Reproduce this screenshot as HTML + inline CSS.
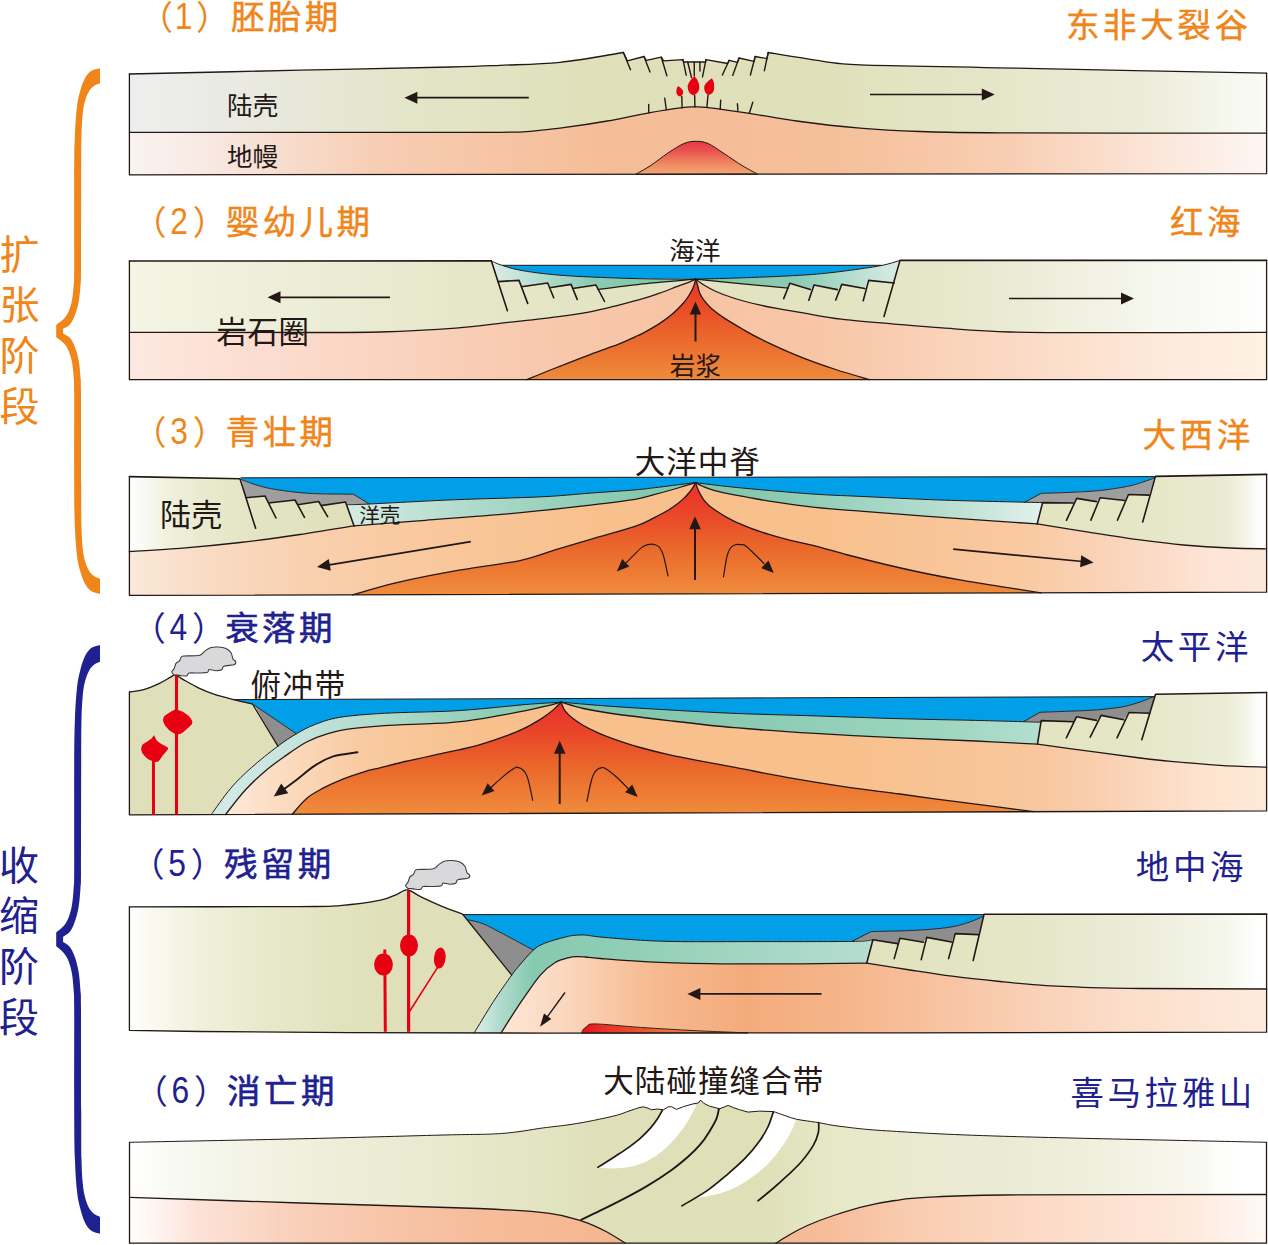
<!DOCTYPE html>
<html lang="zh-CN">
<head>
<meta charset="utf-8">
<title>威尔逊旋回</title>
<style>
html,body{margin:0;padding:0;background:#fff;}
body{width:1268px;height:1245px;overflow:hidden;}
svg{display:block;}
text{font-family:"Liberation Sans","Noto Sans CJK SC",sans-serif;}
</style>
</head>
<body>
<svg width="1268" height="1245" viewBox="0 0 1268 1245">
<defs>
<linearGradient id="g1c" gradientUnits="userSpaceOnUse" x1="129.5" y1="0" x2="1266.5" y2="0"><stop offset="0" stop-color="#eeeeee"/><stop offset="0.08" stop-color="#eaeae5"/><stop offset="0.25" stop-color="#e3e5c8"/><stop offset="0.42" stop-color="#dfe0b9"/><stop offset="0.62" stop-color="#e0e1bb"/><stop offset="0.78" stop-color="#e6e7cb"/><stop offset="0.9" stop-color="#ecedda"/><stop offset="0.96" stop-color="#f5f6ec"/><stop offset="1" stop-color="#fbfbf7"/></linearGradient>
<linearGradient id="g1m" gradientUnits="userSpaceOnUse" x1="129.5" y1="0" x2="1266.5" y2="0"><stop offset="0" stop-color="#faf3f0"/><stop offset="0.05" stop-color="#f8ece7"/><stop offset="0.22" stop-color="#f7cdb4"/><stop offset="0.42" stop-color="#f5bd97"/><stop offset="0.62" stop-color="#f5bf9a"/><stop offset="0.78" stop-color="#f8cfb4"/><stop offset="0.9" stop-color="#fbe5d8"/><stop offset="1" stop-color="#fdf6f3"/></linearGradient>
<linearGradient id="g1d" gradientUnits="userSpaceOnUse" x1="0" y1="141" x2="0" y2="175"><stop offset="0" stop-color="#e73843"/><stop offset="0.3" stop-color="#ea5350"/><stop offset="0.7" stop-color="#f08c62"/><stop offset="1" stop-color="#f4a875"/></linearGradient>
<linearGradient id="g2c" gradientUnits="userSpaceOnUse" x1="129.5" y1="0" x2="1266.5" y2="0"><stop offset="0" stop-color="#f4f5e4"/><stop offset="0.1" stop-color="#eef0dc"/><stop offset="0.3" stop-color="#e6e7c9"/><stop offset="0.45" stop-color="#e2e3c0"/><stop offset="0.62" stop-color="#e2e3c0"/><stop offset="0.75" stop-color="#e8e9cf"/><stop offset="0.9" stop-color="#f6f7ee"/><stop offset="1" stop-color="#fefefe"/></linearGradient>
<linearGradient id="g2m" gradientUnits="userSpaceOnUse" x1="129.5" y1="0" x2="1266.5" y2="0"><stop offset="0" stop-color="#fde8e0"/><stop offset="0.15" stop-color="#fbdacb"/><stop offset="0.35" stop-color="#f8c9ae"/><stop offset="0.5" stop-color="#f7c4a3"/><stop offset="0.62" stop-color="#f8c7a8"/><stop offset="0.8" stop-color="#fbdcc8"/><stop offset="0.92" stop-color="#fdebdd"/><stop offset="1" stop-color="#fef1e4"/></linearGradient>
<linearGradient id="g2mag" gradientUnits="userSpaceOnUse" x1="0" y1="280" x2="0" y2="380"><stop offset="0" stop-color="#ea3323"/><stop offset="0.25" stop-color="#e94a24"/><stop offset="0.6" stop-color="#ea6a2c"/><stop offset="1" stop-color="#ef8b3c"/></linearGradient>
<linearGradient id="g2tL" gradientUnits="userSpaceOnUse" x1="491" y1="0" x2="695" y2="0"><stop offset="0" stop-color="#d9ece6"/><stop offset="0.15" stop-color="#c3e3d8"/><stop offset="0.5" stop-color="#8ccbb3"/><stop offset="1" stop-color="#7cc4a8"/></linearGradient>
<linearGradient id="g2tR" gradientUnits="userSpaceOnUse" x1="695" y1="0" x2="900" y2="0"><stop offset="0" stop-color="#7cc4a8"/><stop offset="0.5" stop-color="#8ccbb3"/><stop offset="0.85" stop-color="#c3e3d8"/><stop offset="1" stop-color="#d9ece6"/></linearGradient>
<linearGradient id="g3cL" gradientUnits="userSpaceOnUse" x1="129.5" y1="0" x2="360" y2="0"><stop offset="0" stop-color="#ffffff"/><stop offset="0.07" stop-color="#f8f9f0"/><stop offset="0.18" stop-color="#eff0dc"/><stop offset="0.31" stop-color="#e9ebd0"/><stop offset="0.6" stop-color="#e2e3c1"/><stop offset="1" stop-color="#dfe0b9"/></linearGradient>
<linearGradient id="g3cR" gradientUnits="userSpaceOnUse" x1="1037" y1="0" x2="1266" y2="0"><stop offset="0" stop-color="#e3e4c0"/><stop offset="0.4" stop-color="#e5e6c6"/><stop offset="0.83" stop-color="#e9ebd2"/><stop offset="0.92" stop-color="#f5f6ea"/><stop offset="0.98" stop-color="#ffffff"/><stop offset="1" stop-color="#ffffff"/></linearGradient>
<linearGradient id="g3m" gradientUnits="userSpaceOnUse" x1="129.5" y1="0" x2="1266" y2="0"><stop offset="0" stop-color="#fbe9da"/><stop offset="0.062" stop-color="#f9dcc5"/><stop offset="0.16" stop-color="#f9d0ae"/><stop offset="0.28" stop-color="#f9c79b"/><stop offset="0.42" stop-color="#f8c08c"/><stop offset="0.6" stop-color="#f8c08c"/><stop offset="0.7" stop-color="#f8c497"/><stop offset="0.78" stop-color="#f9c9a0"/><stop offset="0.87" stop-color="#fad5bc"/><stop offset="0.95" stop-color="#fde4d6"/><stop offset="1" stop-color="#fde8dc"/></linearGradient>
<linearGradient id="g3mag" gradientUnits="userSpaceOnUse" x1="0" y1="483" x2="0" y2="594"><stop offset="0" stop-color="#ea2f2c"/><stop offset="0.25" stop-color="#e94428"/><stop offset="0.6" stop-color="#ea6a2c"/><stop offset="1" stop-color="#f08c3c"/></linearGradient>
<linearGradient id="g3tL" gradientUnits="userSpaceOnUse" x1="347" y1="0" x2="695" y2="0"><stop offset="0" stop-color="#d6ebe4"/><stop offset="0.3" stop-color="#b5ddd0"/><stop offset="0.7" stop-color="#8fcdb5"/><stop offset="1" stop-color="#7cc4a8"/></linearGradient>
<linearGradient id="g3tR" gradientUnits="userSpaceOnUse" x1="695" y1="0" x2="1043" y2="0"><stop offset="0" stop-color="#7cc4a8"/><stop offset="0.3" stop-color="#8fcdb5"/><stop offset="0.7" stop-color="#b5ddd0"/><stop offset="1" stop-color="#e3f1ec"/></linearGradient>
<linearGradient id="g4cR" gradientUnits="userSpaceOnUse" x1="1037" y1="0" x2="1266" y2="0"><stop offset="0" stop-color="#e3e4c0"/><stop offset="0.4" stop-color="#e5e6c6"/><stop offset="0.83" stop-color="#ebedd6"/><stop offset="0.92" stop-color="#f5f6ea"/><stop offset="0.98" stop-color="#ffffff"/><stop offset="1" stop-color="#ffffff"/></linearGradient>
<linearGradient id="g4m" gradientUnits="userSpaceOnUse" x1="210" y1="0" x2="1266" y2="0"><stop offset="0" stop-color="#fdeee2"/><stop offset="0.05" stop-color="#fce0c8"/><stop offset="0.14" stop-color="#f9cba2"/><stop offset="0.26" stop-color="#f8c08c"/><stop offset="0.6" stop-color="#f8c08c"/><stop offset="0.72" stop-color="#f8c497"/><stop offset="0.786" stop-color="#f8c79d"/><stop offset="0.843" stop-color="#f9cfb0"/><stop offset="0.9375" stop-color="#fde3cf"/><stop offset="1" stop-color="#fee9d8"/></linearGradient>
<linearGradient id="g4mag" gradientUnits="userSpaceOnUse" x1="0" y1="703" x2="0" y2="814"><stop offset="0" stop-color="#ea2f2c"/><stop offset="0.25" stop-color="#e94428"/><stop offset="0.6" stop-color="#ea6a2c"/><stop offset="1" stop-color="#f08c3c"/></linearGradient>
<linearGradient id="g4tL" gradientUnits="userSpaceOnUse" x1="210" y1="0" x2="561" y2="0"><stop offset="0" stop-color="#d4ebe6"/><stop offset="0.25" stop-color="#c5e4dc"/><stop offset="0.6" stop-color="#a4d6c4"/><stop offset="1" stop-color="#7cc4a8"/></linearGradient>
<linearGradient id="g4tR" gradientUnits="userSpaceOnUse" x1="561" y1="0" x2="1041" y2="0"><stop offset="0" stop-color="#7cc4a8"/><stop offset="0.4" stop-color="#8bcbb3"/><stop offset="0.8" stop-color="#9fd6c0"/><stop offset="1" stop-color="#b2dfd0"/></linearGradient>
<linearGradient id="g5cL" gradientUnits="userSpaceOnUse" x1="129.5" y1="0" x2="520" y2="0"><stop offset="0" stop-color="#ffffff"/><stop offset="0.05" stop-color="#fafaf2"/><stop offset="0.18" stop-color="#f0f1dc"/><stop offset="0.35" stop-color="#e7e9cb"/><stop offset="0.55" stop-color="#e1e3be"/><stop offset="0.7" stop-color="#dfe0b9"/><stop offset="1" stop-color="#dfe0b9"/></linearGradient>
<linearGradient id="g5cR" gradientUnits="userSpaceOnUse" x1="866" y1="0" x2="1266.5" y2="0"><stop offset="0" stop-color="#e1e2bd"/><stop offset="0.4" stop-color="#e5e6c6"/><stop offset="0.7" stop-color="#eceddb"/><stop offset="0.9" stop-color="#f5f7ec"/><stop offset="0.98" stop-color="#ffffff"/><stop offset="1" stop-color="#ffffff"/></linearGradient>
<linearGradient id="g5m" gradientUnits="userSpaceOnUse" x1="500" y1="0" x2="1266.5" y2="0"><stop offset="0" stop-color="#fde7d6"/><stop offset="0.08" stop-color="#fbd8bf"/><stop offset="0.2" stop-color="#f6ba90"/><stop offset="0.32" stop-color="#f3ab7c"/><stop offset="0.45" stop-color="#f5b58a"/><stop offset="0.62" stop-color="#f8c8a9"/><stop offset="0.8" stop-color="#fbdcc8"/><stop offset="0.93" stop-color="#fde6d6"/><stop offset="1" stop-color="#feeade"/></linearGradient>
<linearGradient id="g5t" gradientUnits="userSpaceOnUse" x1="473" y1="0" x2="872" y2="0"><stop offset="0" stop-color="#dff0ea"/><stop offset="0.06" stop-color="#b5ddd0"/><stop offset="0.15" stop-color="#86c9b0"/><stop offset="0.35" stop-color="#8fcdb5"/><stop offset="0.7" stop-color="#a4d6c4"/><stop offset="1" stop-color="#b5ddd0"/></linearGradient>
<linearGradient id="g5mag" gradientUnits="userSpaceOnUse" x1="581" y1="0" x2="750" y2="0"><stop offset="0" stop-color="#e60f1e"/><stop offset="0.15" stop-color="#e8332a"/><stop offset="0.4" stop-color="#ec5a2e"/><stop offset="0.7" stop-color="#f08a50"/><stop offset="1" stop-color="#f5b488"/></linearGradient>
<linearGradient id="g6c" gradientUnits="userSpaceOnUse" x1="129.5" y1="0" x2="1266.8" y2="0"><stop offset="0" stop-color="#ffffff"/><stop offset="0.025" stop-color="#fbfbf7"/><stop offset="0.062" stop-color="#f6f7ee"/><stop offset="0.15" stop-color="#eff0dd"/><stop offset="0.3" stop-color="#e7e8cb"/><stop offset="0.42" stop-color="#dfe0b9"/><stop offset="0.555" stop-color="#dfe0b8"/><stop offset="0.62" stop-color="#e6e8c8"/><stop offset="0.69" stop-color="#e9ead0"/><stop offset="0.765" stop-color="#eaebd3"/><stop offset="0.85" stop-color="#eff0dd"/><stop offset="0.93" stop-color="#f7f7ef"/><stop offset="0.975" stop-color="#ffffff"/><stop offset="1" stop-color="#ffffff"/></linearGradient>
<linearGradient id="g6mL" gradientUnits="userSpaceOnUse" x1="129.5" y1="0" x2="626" y2="0"><stop offset="0" stop-color="#ffffff"/><stop offset="0.06" stop-color="#fef3ee"/><stop offset="0.14" stop-color="#fce2d6"/><stop offset="0.34" stop-color="#f9cfb9"/><stop offset="0.55" stop-color="#f7c3a6"/><stop offset="0.75" stop-color="#f6bb98"/><stop offset="1" stop-color="#f5b68f"/></linearGradient>
<linearGradient id="g6mR" gradientUnits="userSpaceOnUse" x1="775" y1="0" x2="1266.8" y2="0"><stop offset="0" stop-color="#f5b993"/><stop offset="0.085" stop-color="#f6bb98"/><stop offset="0.277" stop-color="#f9ccb0"/><stop offset="0.4575" stop-color="#fbd6c0"/><stop offset="0.65" stop-color="#fce0cf"/><stop offset="0.84" stop-color="#fee9db"/><stop offset="1" stop-color="#fffaf6"/></linearGradient>
</defs>
<path d="M100.0 68.2 C98.5 68.7 93.6 69.3 91.1 71.1 C88.5 72.9 86.5 75.5 84.7 78.8 C82.9 82.1 81.5 86.4 80.2 91.0 C78.9 95.6 77.9 99.1 77.0 106.4 C76.1 113.7 75.4 123.0 74.9 135.0 C74.4 147.0 74.3 155.6 74.2 178.2 C74.1 200.8 74.3 252.6 74.2 270.4 C74.1 288.1 74.1 279.7 73.7 284.9 C73.3 290.0 72.8 296.5 71.8 301.2 C70.8 305.8 69.5 309.7 68.0 312.8 C66.5 315.8 65.1 317.5 63.1 319.6 C61.1 321.6 57.4 324.0 56.2 324.9 L56.2 337.2 L56.2 337.2 C57.4 338.1 61.1 340.5 63.1 342.6 C65.1 344.6 66.5 346.3 68.0 349.4 C69.5 352.4 70.8 356.3 71.8 360.9 C72.8 365.6 73.3 372.1 73.7 377.2 C74.1 382.4 74.1 374.0 74.2 391.8 C74.3 409.5 74.1 461.3 74.2 483.9 C74.3 506.5 74.4 515.1 74.9 527.1 C75.4 539.1 76.1 548.4 77.0 555.7 C77.9 563.0 78.9 566.5 80.2 571.1 C81.5 575.7 82.9 580.0 84.7 583.3 C86.5 586.6 88.5 589.2 91.1 591.0 C93.6 592.8 98.5 593.4 100.0 593.9 L100 578.8 L100.0 578.8 C99.0 578.4 96.1 577.6 94.3 576.3 C92.5 575.0 90.7 573.5 89.2 571.1 C87.7 568.7 86.4 565.7 85.3 562.1 C84.2 558.5 83.4 555.1 82.8 549.3 C82.2 543.5 81.8 538.0 81.5 527.1 C81.2 516.2 81.3 506.5 81.2 483.9 C81.1 461.3 81.1 409.5 81.0 391.8 C80.9 374.0 80.9 382.6 80.5 377.2 C80.1 371.9 79.6 365.1 78.6 359.9 C77.6 354.8 76.2 350.1 74.7 346.4 C73.2 342.8 71.8 339.9 69.9 337.8 C68.0 335.6 64.2 334.2 63.1 333.4 L63.1 328.7 L63.1 328.7 C64.2 327.9 68.0 326.5 69.9 324.4 C71.8 322.2 73.2 319.4 74.7 315.7 C76.2 312.0 77.6 307.3 78.6 302.2 C79.6 297.0 80.1 290.2 80.5 284.9 C80.9 279.6 80.9 288.1 81.0 270.4 C81.1 252.6 81.1 200.8 81.2 178.2 C81.3 155.6 81.2 145.9 81.5 135.0 C81.8 124.1 82.2 118.6 82.8 112.8 C83.4 107.0 84.2 103.6 85.3 100.0 C86.4 96.4 87.7 93.4 89.2 91.0 C90.7 88.6 92.5 87.1 94.3 85.8 C96.1 84.5 99.0 83.7 100.0 83.3 Z" fill="#f08519"/>
<path d="M100.0 644.9 C98.5 645.4 93.6 646.2 91.1 648.1 C88.5 650.1 86.5 653.1 84.7 656.8 C82.9 660.5 81.5 665.3 80.2 670.4 C78.9 675.6 77.9 679.5 77.0 687.7 C76.1 695.9 75.4 706.3 74.9 719.7 C74.4 733.1 74.3 742.8 74.2 768.1 C74.1 793.4 74.3 851.4 74.2 871.4 C74.1 891.3 74.1 881.9 73.7 887.6 C73.3 893.4 72.8 900.7 71.8 905.9 C70.8 911.1 69.5 915.4 68.0 918.9 C66.5 922.3 65.1 924.2 63.1 926.5 C61.1 928.7 57.4 931.4 56.2 932.4 L56.2 946.3 L56.2 946.3 C57.4 947.3 61.1 950.0 63.1 952.2 C65.1 954.5 66.5 956.4 68.0 959.8 C69.5 963.3 70.8 967.6 71.8 972.8 C72.8 978.0 73.3 985.3 73.7 991.1 C74.1 996.8 74.1 987.4 74.2 1007.3 C74.3 1027.3 74.1 1085.3 74.2 1110.6 C74.3 1135.9 74.4 1145.6 74.9 1159.0 C75.4 1172.4 76.1 1182.8 77.0 1191.0 C77.9 1199.2 78.9 1203.1 80.2 1208.3 C81.5 1213.4 82.9 1218.2 84.7 1221.9 C86.5 1225.6 88.5 1228.6 91.1 1230.6 C93.6 1232.5 98.5 1233.3 100.0 1233.8 L100 1216.9 L100.0 1216.9 C99.0 1216.4 96.1 1215.5 94.3 1214.1 C92.5 1212.7 90.7 1210.9 89.2 1208.3 C87.7 1205.6 86.4 1202.3 85.3 1198.2 C84.2 1194.1 83.4 1190.4 82.8 1183.8 C82.2 1177.3 81.8 1171.2 81.5 1159.0 C81.2 1146.8 81.3 1135.9 81.2 1110.6 C81.1 1085.3 81.1 1027.3 81.0 1007.3 C80.9 987.4 80.9 997.0 80.5 991.1 C80.1 985.2 79.6 977.5 78.6 971.7 C77.6 966.0 76.2 960.7 74.7 956.6 C73.2 952.5 71.8 949.3 69.9 946.9 C68.0 944.4 64.2 942.8 63.1 942.0 L63.1 936.7 L63.1 936.7 C64.2 935.9 68.0 934.3 69.9 931.8 C71.8 929.4 73.2 926.2 74.7 922.1 C76.2 918.0 77.6 912.7 78.6 907.0 C79.6 901.2 80.1 893.5 80.5 887.6 C80.9 881.7 80.9 891.3 81.0 871.4 C81.1 851.4 81.1 793.4 81.2 768.1 C81.3 742.8 81.2 731.9 81.5 719.7 C81.8 707.5 82.2 701.4 82.8 694.9 C83.4 688.3 84.2 684.6 85.3 680.5 C86.4 676.4 87.7 673.1 89.2 670.4 C90.7 667.8 92.5 666.0 94.3 664.6 C96.1 663.2 99.0 662.3 100.0 661.8 Z" fill="#1f2190"/>
<text x="-0.4" y="268.8" font-size="40" fill="#f08519" letter-spacing="0" font-weight="400" text-anchor="start" >扩</text>
<text x="-0.4" y="319.3" font-size="40" fill="#f08519" letter-spacing="0" font-weight="400" text-anchor="start" >张</text>
<text x="-0.4" y="369.8" font-size="40" fill="#f08519" letter-spacing="0" font-weight="400" text-anchor="start" >阶</text>
<text x="-0.4" y="420.5" font-size="40" fill="#f08519" letter-spacing="0" font-weight="400" text-anchor="start" >段</text>
<text x="-0.9" y="879.7" font-size="40" fill="#1f2190" letter-spacing="0" font-weight="400" text-anchor="start" >收</text>
<text x="-0.9" y="930.3" font-size="40" fill="#1f2190" letter-spacing="0" font-weight="400" text-anchor="start" >缩</text>
<text x="-0.9" y="980.9" font-size="40" fill="#1f2190" letter-spacing="0" font-weight="400" text-anchor="start" >阶</text>
<text x="-0.9" y="1031.5" font-size="40" fill="#1f2190" letter-spacing="0" font-weight="400" text-anchor="start" >段</text>
<text x="139.6" y="29.3" font-size="33.5" fill="#f08519" font-weight="400">（</text>
<text transform="translate(183.5 29.3) scale(0.86 1)" font-size="37" fill="#f08519" font-weight="400" text-anchor="middle" style="font-family:'Liberation Sans',sans-serif">1</text>
<text x="195.9" y="29.3" font-size="33.5" fill="#f08519" font-weight="400">）</text>
<text x="230.9" y="29.3" font-size="33.5" fill="#f08519" font-weight="400" letter-spacing="3.4" stroke="#f08519" stroke-width="0.45">胚胎期</text>
<text x="132.9" y="233.8" font-size="33.5" fill="#f08519" font-weight="400">（</text>
<text transform="translate(179.0 233.8) scale(0.86 1)" font-size="37" fill="#f08519" font-weight="400" text-anchor="middle" style="font-family:'Liberation Sans',sans-serif">2</text>
<text x="192.7" y="233.8" font-size="33.5" fill="#f08519" font-weight="400">）</text>
<text x="225.8" y="233.8" font-size="33.5" fill="#f08519" font-weight="400" letter-spacing="3.4" stroke="#f08519" stroke-width="0.45">婴幼儿期</text>
<text x="132.9" y="443.8" font-size="33.5" fill="#f08519" font-weight="400">（</text>
<text transform="translate(179.0 443.8) scale(0.86 1)" font-size="37" fill="#f08519" font-weight="400" text-anchor="middle" style="font-family:'Liberation Sans',sans-serif">3</text>
<text x="192.7" y="443.8" font-size="33.5" fill="#f08519" font-weight="400">）</text>
<text x="225.8" y="443.8" font-size="33.5" fill="#f08519" font-weight="400" letter-spacing="3.4" stroke="#f08519" stroke-width="0.45">青壮期</text>
<text x="132.3" y="639.8" font-size="33.5" fill="#1f2190" font-weight="400">（</text>
<text transform="translate(178.4 639.8) scale(0.86 1)" font-size="37" fill="#1f2190" font-weight="400" text-anchor="middle" style="font-family:'Liberation Sans',sans-serif">4</text>
<text x="192.1" y="639.8" font-size="33.5" fill="#1f2190" font-weight="400">）</text>
<text x="225.2" y="639.8" font-size="33.5" fill="#1f2190" font-weight="400" letter-spacing="3.4" stroke="#1f2190" stroke-width="0.6">衰落期</text>
<text x="131.0" y="875.7" font-size="33.5" fill="#1f2190" font-weight="400">（</text>
<text transform="translate(177.1 875.7) scale(0.86 1)" font-size="37" fill="#1f2190" font-weight="400" text-anchor="middle" style="font-family:'Liberation Sans',sans-serif">5</text>
<text x="190.8" y="875.7" font-size="33.5" fill="#1f2190" font-weight="400">）</text>
<text x="223.9" y="875.7" font-size="33.5" fill="#1f2190" font-weight="400" letter-spacing="3.4" stroke="#1f2190" stroke-width="0.6">残留期</text>
<text x="134.2" y="1102.5" font-size="33.5" fill="#1f2190" font-weight="400">（</text>
<text transform="translate(180.3 1102.5) scale(0.86 1)" font-size="37" fill="#1f2190" font-weight="400" text-anchor="middle" style="font-family:'Liberation Sans',sans-serif">6</text>
<text x="194.0" y="1102.5" font-size="33.5" fill="#1f2190" font-weight="400">）</text>
<text x="227.1" y="1102.5" font-size="33.5" fill="#1f2190" font-weight="400" letter-spacing="3.4" stroke="#1f2190" stroke-width="0.6">消亡期</text>
<text x="1066" y="36.8" font-size="33.5" fill="#f08519" letter-spacing="3.6" font-weight="400" text-anchor="start" stroke="#f08519" stroke-width="0.4">东非大裂谷</text>
<text x="1170" y="234.4" font-size="33.5" fill="#f08519" letter-spacing="3.6" font-weight="400" text-anchor="start" stroke="#f08519" stroke-width="0.4">红海</text>
<text x="1142.5" y="446.8" font-size="33.5" fill="#f08519" letter-spacing="3.6" font-weight="400" text-anchor="start" stroke="#f08519" stroke-width="0.4">大西洋</text>
<text x="1140.7" y="658.6" font-size="33.5" fill="#1f2190" letter-spacing="3.6" font-weight="400" text-anchor="start" >太平洋</text>
<text x="1135.8" y="878.6" font-size="33.5" fill="#1f2190" letter-spacing="3.6" font-weight="400" text-anchor="start" >地中海</text>
<text x="1070.4" y="1105" font-size="33.5" fill="#1f2190" letter-spacing="3.6" font-weight="400" text-anchor="start" >喜马拉雅山</text>
<path d="M129.4 132.3 C174.5 132.3 338.2 132.4 400.0 132.4 C461.8 132.4 478.3 132.5 500.0 132.3 C521.7 132.1 520.0 132.0 530.0 131.3 C540.0 130.6 547.1 129.9 560.0 128.2 C572.9 126.5 592.5 123.6 607.3 121.0 C622.1 118.4 636.2 115.0 648.7 112.8 C661.2 110.6 674.3 108.6 682.0 107.6 C689.7 106.6 690.7 106.9 695.0 106.9 C699.3 106.9 699.0 106.5 708.0 107.6 C717.0 108.7 734.5 111.1 749.3 113.3 C764.1 115.5 778.1 118.5 796.6 121.0 C815.1 123.5 839.4 126.4 860.0 128.2 C880.6 129.9 896.7 130.7 920.0 131.5 C943.3 132.3 942.2 132.5 1000.0 132.8 C1057.8 133.1 1222.2 133.1 1266.6 133.2 L1266.6 173.6 L129.4 174.8 Z" fill="url(#g1m)" stroke="none" />
<path d="M129.4 74.0 C157.8 73.4 246.6 71.4 300.0 70.2 C353.4 69.0 416.7 67.8 450.0 67.0 C483.3 66.2 481.7 66.1 500.0 65.3 C518.3 64.5 539.4 64.4 560.0 62.3 C580.6 60.2 612.8 54.1 623.4 52.5 L627.4 60.8 L644.0 56.5 L646.3 60.3 L661.3 57.2 L663.6 60.8 L683.0 59.6 L683.6 62.0 L705.5 62.0 L706.0 59.6 L727.5 63.5 L729.2 60.3 L737.5 62.3 L739.0 58.0 L754.0 61.3 L755.2 56.5 L767.0 58.6 L768.2 52.5 L768.2 52.5 C777.3 54.0 807.7 59.2 823.0 61.3 C838.3 63.3 831.0 63.7 860.0 64.8 C889.0 65.9 929.2 66.4 997.0 67.8 C1064.8 69.2 1221.7 72.3 1266.6 73.2 L1266.6 133.2 C1222.2 133.1 1057.8 133.1 1000.0 132.8 C942.2 132.5 943.3 132.3 920.0 131.5 C896.7 130.7 880.6 129.9 860.0 128.2 C839.4 126.4 815.1 123.5 796.6 121.0 C778.1 118.5 764.1 115.5 749.3 113.3 C734.5 111.1 717.0 108.7 708.0 107.6 C699.0 106.5 699.3 106.9 695.0 106.9 C690.7 106.9 689.7 106.6 682.0 107.6 C674.3 108.6 661.2 110.6 648.7 112.8 C636.2 115.0 622.1 118.4 607.3 121.0 C592.5 123.6 572.9 126.5 560.0 128.2 C547.1 129.9 540.0 130.6 530.0 131.3 C520.0 132.0 521.7 132.1 500.0 132.3 C478.3 132.5 461.8 132.4 400.0 132.4 C338.2 132.4 174.5 132.3 129.4 132.3 Z" fill="url(#g1c)" stroke="none" />
<path d="M635.7 174.3 C638.1 172.9 644.6 169.5 650.0 166.0 C655.4 162.5 662.3 156.8 668.0 153.0 C673.7 149.2 679.3 145.4 684.0 143.5 C688.7 141.6 692.0 141.3 696.0 141.3 C700.0 141.3 703.3 141.5 708.0 143.5 C712.7 145.5 718.3 149.8 724.0 153.5 C729.7 157.2 736.4 162.1 742.0 165.5 C747.6 168.9 754.9 172.7 757.5 174.1 Z" fill="url(#g1d)" stroke="#231815" stroke-width="1.0" stroke-linejoin="round" />
<path d="M129.4 132.3 C174.5 132.3 338.2 132.4 400.0 132.4 C461.8 132.4 478.3 132.5 500.0 132.3 C521.7 132.1 520.0 132.0 530.0 131.3 C540.0 130.6 547.1 129.9 560.0 128.2 C572.9 126.5 592.5 123.6 607.3 121.0 C622.1 118.4 636.2 115.0 648.7 112.8 C661.2 110.6 674.3 108.6 682.0 107.6 C689.7 106.6 690.7 106.9 695.0 106.9 C699.3 106.9 699.0 106.5 708.0 107.6 C717.0 108.7 734.5 111.1 749.3 113.3 C764.1 115.5 778.1 118.5 796.6 121.0 C815.1 123.5 839.4 126.4 860.0 128.2 C880.6 129.9 896.7 130.7 920.0 131.5 C943.3 132.3 942.2 132.5 1000.0 132.8 C1057.8 133.1 1222.2 133.1 1266.6 133.2" fill="none" stroke="#231815" stroke-width="1.3" stroke-linejoin="round" stroke-linecap="round" />
<path d="M129.4 74.0 C157.8 73.4 246.6 71.4 300.0 70.2 C353.4 69.0 416.7 67.8 450.0 67.0 C483.3 66.2 481.7 66.1 500.0 65.3 C518.3 64.5 539.4 64.4 560.0 62.3 C580.6 60.2 612.8 54.1 623.4 52.5 L627.4 60.8 L644.0 56.5 L646.3 60.3 L661.3 57.2 L663.6 60.8 L683.0 59.6 L683.6 62.0 L705.5 62.0 L706.0 59.6 L727.5 63.5 L729.2 60.3 L737.5 62.3 L739.0 58.0 L754.0 61.3 L755.2 56.5 L767.0 58.6 L768.2 52.5 L768.2 52.5 C777.3 54.0 807.7 59.2 823.0 61.3 C838.3 63.3 831.0 63.7 860.0 64.8 C889.0 65.9 929.2 66.4 997.0 67.8 C1064.8 69.2 1221.7 72.3 1266.6 73.2" fill="none" stroke="#231815" stroke-width="1.3" stroke-linejoin="round" stroke-linecap="round" />
<path d="M129.4 74 L129.4 174.8 L1266.6 173.6 L1266.6 73.2" fill="none" stroke="#231815" stroke-width="1.3" stroke-linejoin="round" stroke-linecap="round" />
<path d="M623.4 52.5 L630.5 69.7" fill="none" stroke="#231815" stroke-width="1.4" stroke-linejoin="round" stroke-linecap="round" />
<path d="M644.0 56.5 L650.0 72.0" fill="none" stroke="#231815" stroke-width="1.4" stroke-linejoin="round" stroke-linecap="round" />
<path d="M661.3 57.2 L666.9 75.8" fill="none" stroke="#231815" stroke-width="1.4" stroke-linejoin="round" stroke-linecap="round" />
<path d="M683.0 59.6 L686.2 75.2" fill="none" stroke="#231815" stroke-width="1.4" stroke-linejoin="round" stroke-linecap="round" />
<path d="M687.7 62.0 L691.5 77.5" fill="none" stroke="#231815" stroke-width="1.4" stroke-linejoin="round" stroke-linecap="round" />
<path d="M694.2 62.0 L694.3 76.1" fill="none" stroke="#231815" stroke-width="1.4" stroke-linejoin="round" stroke-linecap="round" />
<path d="M699.8 62.0 L700.0 71.1" fill="none" stroke="#231815" stroke-width="1.4" stroke-linejoin="round" stroke-linecap="round" />
<path d="M706.0 59.6 L702.5 76.9" fill="none" stroke="#231815" stroke-width="1.4" stroke-linejoin="round" stroke-linecap="round" />
<path d="M729.2 60.3 L722.4 75.0" fill="none" stroke="#231815" stroke-width="1.4" stroke-linejoin="round" stroke-linecap="round" />
<path d="M739.0 58.0 L732.7 75.4" fill="none" stroke="#231815" stroke-width="1.4" stroke-linejoin="round" stroke-linecap="round" />
<path d="M755.2 56.5 L750.4 75.0" fill="none" stroke="#231815" stroke-width="1.4" stroke-linejoin="round" stroke-linecap="round" />
<path d="M768.2 52.5 L764.4 70.7" fill="none" stroke="#231815" stroke-width="1.4" stroke-linejoin="round" stroke-linecap="round" />
<path d="M648.7 112.8 L648.7 104.5" fill="none" stroke="#231815" stroke-width="1.4" stroke-linejoin="round" stroke-linecap="round" />
<path d="M666.3 109.5 L664.7 98.2" fill="none" stroke="#231815" stroke-width="1.4" stroke-linejoin="round" stroke-linecap="round" />
<path d="M682.1 108.1 L681.8 96.5" fill="none" stroke="#231815" stroke-width="1.4" stroke-linejoin="round" stroke-linecap="round" />
<path d="M694.9 106.9 L694.7 95.4" fill="none" stroke="#231815" stroke-width="1.4" stroke-linejoin="round" stroke-linecap="round" />
<path d="M706.9 107.3 L708.0 95.1" fill="none" stroke="#231815" stroke-width="1.4" stroke-linejoin="round" stroke-linecap="round" />
<path d="M720.2 109.2 L720.7 100.1" fill="none" stroke="#231815" stroke-width="1.4" stroke-linejoin="round" stroke-linecap="round" />
<path d="M737.9 110.4 L737.4 103.8" fill="none" stroke="#231815" stroke-width="1.4" stroke-linejoin="round" stroke-linecap="round" />
<path d="M749.3 113.3 L752.8 102.2" fill="none" stroke="#231815" stroke-width="1.4" stroke-linejoin="round" stroke-linecap="round" />
<path d="M678.0 86.0 C681.1 88.0 683.2 90.2 683.2 92.0 C683.2 94.4 681.5 96.1 680.3 96.5 C677.7 95.9 676.3 94.1 676.3 91.7 C676.3 89.6 677.0 87.5 678.0 86.0 Z" fill="#e60012" stroke="none" />
<path d="M694.5 76.3 C698.2 80.1 699.3 83.9 699.3 87.3 C699.3 91.5 696.4 94.7 693.2 95.3 C690.0 94.3 687.7 91.1 687.7 86.8 C687.7 83.0 691.2 79.1 694.5 76.3 Z" fill="#e60012" stroke="none" />
<path d="M711.9 78.3 C714.3 81.7 714.2 85.0 714.2 88.0 C714.2 91.7 711.7 94.6 708.4 95.1 C706.2 94.3 704.2 91.4 704.2 87.5 C704.2 84.2 708.3 80.8 711.9 78.3 Z" fill="#e60012" stroke="none" />
<path d="M528.8 97.7 L415.4 97.7" stroke="#231815" stroke-width="1.7" fill="none"/><polygon points="404.4,97.7 417.4,91.7 417.4,103.7" fill="#231815"/>
<path d="M870.0 94.5 L983.8 94.5" stroke="#231815" stroke-width="1.7" fill="none"/><polygon points="994.8,94.5 981.8,100.5 981.8,88.5" fill="#231815"/>
<text x="227" y="114.5" font-size="25.5" fill="#231815" letter-spacing="0.3" font-weight="400" text-anchor="start" >陆壳</text>
<text x="227" y="166" font-size="25.5" fill="#231815" letter-spacing="0.3" font-weight="400" text-anchor="start" >地幔</text>
<path d="M129.4 332.3 C157.8 332.3 258.2 332.6 300.0 332.5 C341.8 332.4 354.1 332.7 380.0 332.0 C405.9 331.3 434.7 329.8 455.7 328.2 C476.7 326.6 489.4 324.5 506.2 322.6 C523.0 320.7 542.7 318.6 556.7 316.8 C570.7 315.0 580.1 313.6 590.0 311.8 C599.9 310.0 607.3 308.0 616.0 305.8 C624.7 303.6 634.9 301.0 642.1 298.9 C649.3 296.8 653.6 295.2 659.4 293.2 C665.2 291.2 671.7 288.6 676.8 286.7 C681.9 284.8 686.7 283.1 689.8 281.9 C692.9 280.6 694.5 279.6 695.5 279.2 L695.5 279.2 C696.8 280.1 699.6 282.4 703.0 284.5 C706.4 286.6 710.9 289.2 716.0 291.5 C721.1 293.8 726.2 295.8 733.4 298.0 C740.6 300.2 752.2 303.2 759.4 304.9 C766.6 306.6 770.0 307.2 776.8 308.4 C783.6 309.6 789.2 310.5 800.0 312.3 C810.8 314.1 826.1 317.3 841.4 319.2 C856.7 321.1 875.1 322.4 891.9 323.8 C908.7 325.2 922.7 326.5 942.4 327.9 C962.1 329.3 983.7 331.2 1010.0 332.0 C1036.3 332.8 1057.2 332.6 1100.0 332.6 C1142.8 332.7 1238.8 332.4 1266.6 332.3 L1266.6 379.7 L129.4 379.7 Z" fill="url(#g2m)" stroke="none" />
<path d="M129.4 261 L491.3 260.8 L498.2 281.6 L519.0 280.4 L521.4 286.8 L547.7 283.0 L549.6 287.8 L571.1 284.4 L572.8 288.5 L595.9 285.0 L598.0 289.6 L598.0 289.6 C606.7 288.5 633.8 284.9 650.0 283.2 C666.2 281.5 687.9 279.9 695.5 279.2 L695.5 279.2 C694.5 279.6 692.9 280.6 689.8 281.9 C686.7 283.1 681.9 284.8 676.8 286.7 C671.7 288.6 665.2 291.2 659.4 293.2 C653.6 295.2 649.3 296.8 642.1 298.9 C634.9 301.0 624.7 303.6 616.0 305.8 C607.3 308.0 599.9 310.0 590.0 311.8 C580.1 313.6 570.7 315.0 556.7 316.8 C542.7 318.6 523.0 320.7 506.2 322.6 C489.4 324.5 476.7 326.6 455.7 328.2 C434.7 329.8 405.9 331.3 380.0 332.0 C354.1 332.7 341.8 332.4 300.0 332.5 C258.2 332.6 157.8 332.3 129.4 332.3 Z" fill="url(#g2c)" stroke="none" />
<path d="M695.5 279.2 C702.9 279.9 724.5 282.1 740.0 283.6 C755.5 285.1 780.2 287.4 788.3 288.2 L789.8 283.3 L810.3 289.6 L814.0 285.0 L837.3 289.6 L841.8 284.4 L864.7 288.5 L868.7 280.4 L894.3 283.0 L900 260.4 L1266.6 260.4 L1266.6 332.7 L1266.6 332.3 C1238.8 332.4 1142.8 332.7 1100.0 332.6 C1057.2 332.6 1036.3 332.8 1010.0 332.0 C983.7 331.2 962.1 329.3 942.4 327.9 C922.7 326.5 908.7 325.2 891.9 323.8 C875.1 322.4 856.7 321.1 841.4 319.2 C826.1 317.3 810.8 314.1 800.0 312.3 C789.2 310.5 783.6 309.6 776.8 308.4 C770.0 307.2 766.6 306.6 759.4 304.9 C752.2 303.2 740.6 300.2 733.4 298.0 C726.2 295.8 721.1 293.8 716.0 291.5 C710.9 289.2 706.4 286.6 703.0 284.5 C699.6 282.4 696.8 280.1 695.5 279.2 Z" fill="url(#g2c)" stroke="none" />
<path d="M491.3 260.8 C492.9 261.5 495.5 263.2 500.8 264.9 C506.1 266.6 512.4 269.0 523.4 270.8 C534.4 272.6 548.0 274.4 566.8 275.7 C585.6 277.0 614.8 278.0 636.2 278.6 C657.7 279.2 685.6 279.1 695.5 279.2 L695.5 279.2 C687.9 279.9 666.2 281.5 650.0 283.2 C633.8 284.9 606.7 288.5 598.0 289.6 L595.9 285.0 L572.8 288.5 L571.1 284.4 L549.6 287.8 L547.7 283.0 L521.4 286.8 L519.0 280.4 L498.2 281.6 Z" fill="url(#g2tL)" stroke="none" />
<path d="M695.5 279.2 C706.1 278.9 740.1 278.0 759.4 277.2 C778.7 276.4 797.0 275.6 811.5 274.5 C826.0 273.4 834.6 272.3 846.2 270.8 C857.8 269.3 871.9 267.3 880.9 265.6 C889.9 263.9 896.8 261.3 900.0 260.4 L894.3 283.0 L868.7 280.4 L864.7 288.5 L841.8 284.4 L837.3 289.6 L814.0 285.0 L810.3 289.6 L789.8 283.3 L788.3 288.2 L788.3 288.2 C780.2 287.4 755.5 285.1 740.0 283.6 C724.5 282.1 702.9 279.9 695.5 279.2 Z" fill="url(#g2tR)" stroke="none" />
<path d="M502.6 265.3 L880.9 265.3 L880.9 265.6 C875.1 266.5 857.8 269.3 846.2 270.8 C834.6 272.3 826.0 273.4 811.5 274.5 C797.0 275.6 778.7 276.4 759.4 277.2 C740.1 278.0 706.1 278.9 695.5 279.2 L695.5 279.2 C685.6 279.1 657.7 279.2 636.2 278.6 C614.8 278.0 585.6 277.0 566.8 275.7 C548.0 274.4 534.4 272.6 523.4 270.8 C512.4 269.0 504.6 265.9 500.8 264.9 Z" fill="#009fe8" stroke="none" />
<path d="M526.8 379.7 C531.1 377.9 542.2 373.2 552.9 369.0 C563.5 364.8 579.8 358.4 590.7 354.3 C601.7 350.2 611.2 347.1 618.6 344.2 C626.0 341.3 631.1 338.6 635.0 336.8 C638.9 335.0 638.0 335.8 642.1 333.6 C646.2 331.4 654.4 326.9 659.4 323.6 C664.4 320.3 668.3 317.5 672.4 314.0 C676.5 310.5 680.8 306.1 683.7 302.8 C686.6 299.5 688.1 296.9 689.8 294.1 C691.5 291.4 692.8 288.8 693.7 286.3 C694.7 283.8 695.2 280.4 695.5 279.2 L695.5 279.2 C695.8 280.1 696.7 282.3 697.4 284.5 C698.1 286.7 698.4 289.8 699.5 292.4 C700.6 295.0 701.9 297.5 703.9 300.2 C705.9 302.9 708.2 305.8 711.7 308.8 C715.2 311.8 719.7 315.1 724.7 318.4 C729.8 321.7 736.1 325.4 742.0 328.8 C747.9 332.2 750.7 334.2 760.0 338.7 C769.3 343.2 785.3 350.7 797.9 355.8 C810.5 360.9 823.7 365.5 835.7 369.5 C847.7 373.5 864.1 378.0 869.8 379.7 Z" fill="url(#g2mag)" stroke="none" />
<path d="M526.8 379.7 C531.1 377.9 542.2 373.2 552.9 369.0 C563.5 364.8 579.8 358.4 590.7 354.3 C601.7 350.2 611.2 347.1 618.6 344.2 C626.0 341.3 631.1 338.6 635.0 336.8 C638.9 335.0 638.0 335.8 642.1 333.6 C646.2 331.4 654.4 326.9 659.4 323.6 C664.4 320.3 668.3 317.5 672.4 314.0 C676.5 310.5 680.8 306.1 683.7 302.8 C686.6 299.5 688.1 296.9 689.8 294.1 C691.5 291.4 692.8 288.8 693.7 286.3 C694.7 283.8 695.2 280.4 695.5 279.2" fill="none" stroke="#231815" stroke-width="1.3" stroke-linejoin="round" stroke-linecap="round" />
<path d="M695.5 279.2 C695.8 280.1 696.7 282.3 697.4 284.5 C698.1 286.7 698.4 289.8 699.5 292.4 C700.6 295.0 701.9 297.5 703.9 300.2 C705.9 302.9 708.2 305.8 711.7 308.8 C715.2 311.8 719.7 315.1 724.7 318.4 C729.8 321.7 736.1 325.4 742.0 328.8 C747.9 332.2 750.7 334.2 760.0 338.7 C769.3 343.2 785.3 350.7 797.9 355.8 C810.5 360.9 823.7 365.5 835.7 369.5 C847.7 373.5 864.1 378.0 869.8 379.7" fill="none" stroke="#231815" stroke-width="1.3" stroke-linejoin="round" stroke-linecap="round" />
<path d="M129.4 332.3 C157.8 332.3 258.2 332.6 300.0 332.5 C341.8 332.4 354.1 332.7 380.0 332.0 C405.9 331.3 434.7 329.8 455.7 328.2 C476.7 326.6 489.4 324.5 506.2 322.6 C523.0 320.7 542.7 318.6 556.7 316.8 C570.7 315.0 580.1 313.6 590.0 311.8 C599.9 310.0 607.3 308.0 616.0 305.8 C624.7 303.6 634.9 301.0 642.1 298.9 C649.3 296.8 653.6 295.2 659.4 293.2 C665.2 291.2 671.7 288.6 676.8 286.7 C681.9 284.8 686.7 283.1 689.8 281.9 C692.9 280.6 694.5 279.6 695.5 279.2" fill="none" stroke="#231815" stroke-width="1.3" stroke-linejoin="round" stroke-linecap="round" />
<path d="M695.5 279.2 C696.8 280.1 699.6 282.4 703.0 284.5 C706.4 286.6 710.9 289.2 716.0 291.5 C721.1 293.8 726.2 295.8 733.4 298.0 C740.6 300.2 752.2 303.2 759.4 304.9 C766.6 306.6 770.0 307.2 776.8 308.4 C783.6 309.6 789.2 310.5 800.0 312.3 C810.8 314.1 826.1 317.3 841.4 319.2 C856.7 321.1 875.1 322.4 891.9 323.8 C908.7 325.2 922.7 326.5 942.4 327.9 C962.1 329.3 983.7 331.2 1010.0 332.0 C1036.3 332.8 1057.2 332.6 1100.0 332.6 C1142.8 332.7 1238.8 332.4 1266.6 332.3" fill="none" stroke="#231815" stroke-width="1.3" stroke-linejoin="round" stroke-linecap="round" />
<path d="M491.3 260.8 C492.9 261.5 495.5 263.2 500.8 264.9 C506.1 266.6 512.4 269.0 523.4 270.8 C534.4 272.6 548.0 274.4 566.8 275.7 C585.6 277.0 614.8 278.0 636.2 278.6 C657.7 279.2 685.6 279.1 695.5 279.2" fill="none" stroke="#231815" stroke-width="1.0" stroke-linejoin="round" stroke-linecap="round" />
<path d="M695.5 279.2 C706.1 278.9 740.1 278.0 759.4 277.2 C778.7 276.4 797.0 275.6 811.5 274.5 C826.0 273.4 834.6 272.3 846.2 270.8 C857.8 269.3 871.9 267.3 880.9 265.6 C889.9 263.9 896.8 261.3 900.0 260.4" fill="none" stroke="#231815" stroke-width="1.0" stroke-linejoin="round" stroke-linecap="round" />
<path d="M502.6 265.3 L880.9 265.3" fill="none" stroke="#231815" stroke-width="1.0" stroke-linejoin="round" stroke-linecap="round" />
<path d="M129.4 261 L491.3 260.8 L507.4 310.7" fill="none" stroke="#231815" stroke-width="1.6" stroke-linejoin="round" stroke-linecap="round" />
<path d="M1266.6 260.4 L900 260.4 L884 316.5" fill="none" stroke="#231815" stroke-width="1.6" stroke-linejoin="round" stroke-linecap="round" />
<path d="M498.2 281.6 L519 280.4 L527.7 303.4 M521.4 286.8 L547.7 283 L553.7 297.7 M549.6 287.8 L571.1 284.4 L577.2 299.4 M572.8 288.5 L595.9 285 L604.6 301.5" fill="none" stroke="#231815" stroke-width="1.6" stroke-linejoin="round" stroke-linecap="round" />
<path d="M598.0 289.6 C606.7 288.5 633.8 284.9 650.0 283.2 C666.2 281.5 687.9 279.9 695.5 279.2" fill="none" stroke="#231815" stroke-width="1.3" stroke-linejoin="round" stroke-linecap="round" />
<path d="M695.5 279.2 C702.9 279.9 724.5 282.1 740.0 283.6 C755.5 285.1 780.2 287.4 788.3 288.2" fill="none" stroke="#231815" stroke-width="1.3" stroke-linejoin="round" stroke-linecap="round" />
<path d="M783.7 298.6 L789.8 283.3 L810.3 289.6 M808.8 300.3 L814 285 L837.3 289.6 M835.7 300 L841.8 284.4 L864.7 288.5 M863.2 300.7 L868.7 280.4 L894.3 283" fill="none" stroke="#231815" stroke-width="1.6" stroke-linejoin="round" stroke-linecap="round" />
<path d="M129.4 261 L129.4 379.7 L1266.6 379.7 L1266.6 260.4" fill="none" stroke="#231815" stroke-width="1.3" stroke-linejoin="round" stroke-linecap="round" />
<path d="M390.0 297.3 L278.5 297.3" stroke="#231815" stroke-width="1.7" fill="none"/><polygon points="267.5,297.3 280.5,291.3 280.5,303.3" fill="#231815"/>
<path d="M1009.0 298.5 L1123.0 298.5" stroke="#231815" stroke-width="1.7" fill="none"/><polygon points="1134.0,298.5 1121.0,304.5 1121.0,292.5" fill="#231815"/>
<path d="M695.5 341.5 L695.5 312.5" stroke="#231815" stroke-width="2" fill="none"/><polygon points="695.5,301.5 701.2,314.5 689.8,314.5" fill="#231815"/>
<text x="216.5" y="343.2" font-size="30.5" fill="#231815" letter-spacing="0.5" font-weight="400" text-anchor="start" >岩石圈</text>
<text x="695" y="260.2" font-size="25.5" fill="#231815" letter-spacing="0.3" font-weight="400" text-anchor="middle" >海洋</text>
<text x="695.5" y="374.6" font-size="25.5" fill="#231815" letter-spacing="0.3" font-weight="400" text-anchor="middle" >岩浆</text>
<path d="M129.4 551.6 C137.8 551.1 161.6 549.9 180.0 548.4 C198.4 546.9 220.0 544.8 240.0 542.5 C260.0 540.2 281.0 537.3 300.0 534.5 C319.0 531.7 345.0 527.2 354.0 525.8 L425.2 520.3 C439.4 519.2 482.8 516.1 510.4 513.6 C537.9 511.1 569.7 507.5 590.5 505.1 C611.3 502.7 624.4 501.1 635.0 499.4 C645.6 497.7 647.6 496.3 653.9 494.7 C660.2 493.1 667.4 491.1 672.9 489.5 C678.4 487.9 683.3 486.3 687.1 485.2 C690.9 484.1 694.1 483.0 695.5 482.6 L703.0 486.5 C704.8 487.1 708.9 489.0 713.9 490.4 C718.9 491.8 723.4 492.9 732.9 494.7 C742.4 496.5 757.0 499.2 770.7 501.3 C784.4 503.4 800.0 505.8 815.0 507.4 C830.0 509.0 838.6 509.5 860.4 511.2 C882.1 512.9 916.0 515.6 945.5 517.7 C975.0 519.8 1021.9 522.9 1037.2 523.9 L1085.2 531.7 C1094.7 533.1 1125.6 538.0 1142.0 540.2 C1158.4 542.4 1168.8 543.7 1183.5 545.0 C1198.2 546.3 1216.2 547.4 1230.0 548.0 C1243.8 548.6 1260.5 548.7 1266.6 548.8 L1266.6 592.2 L129.4 595.4 Z" fill="url(#g3m)" stroke="none" />
<path d="M352.8 594.8 C360.1 592.7 380.0 586.5 396.8 582.6 C413.6 578.7 433.1 574.9 453.6 571.2 C474.1 567.5 503.4 564.0 520.0 560.6 C536.5 557.2 541.1 554.2 552.9 550.7 C564.7 547.2 577.0 543.3 590.7 539.3 C604.4 535.2 624.5 530.0 635.0 526.4 C645.5 522.8 648.4 520.6 653.9 517.9 C659.4 515.2 664.1 512.7 668.1 510.3 C672.1 507.9 674.8 505.8 677.6 503.7 C680.4 501.6 682.7 499.4 684.7 497.5 C686.7 495.6 688.0 494.0 689.4 492.3 C690.8 490.6 692.2 488.7 693.2 487.1 C694.2 485.5 695.1 483.4 695.5 482.6 L698.8 491.4 C699.8 493.0 702.0 497.8 704.5 500.8 C707.0 503.8 709.2 506.0 713.9 509.3 C718.6 512.6 726.6 517.5 732.9 520.7 C739.2 523.9 745.5 526.3 751.8 528.7 C758.1 531.1 764.4 533.0 770.7 534.9 C777.0 536.8 782.2 538.3 789.6 540.1 C797.0 541.9 805.3 543.3 815.0 545.8 C824.7 548.3 836.1 551.9 847.9 555.0 C859.7 558.1 873.1 561.5 885.7 564.5 C898.3 567.5 911.0 570.4 923.6 573.0 C936.2 575.6 948.8 578.0 961.4 580.2 C974.0 582.4 986.0 584.2 999.3 586.3 C1012.5 588.4 1034.0 591.7 1040.9 592.8 Z" fill="url(#g3mag)" stroke="none" />
<path d="M129.4 476.6 L240 478.8 L246.2 497.7 L265.0 496.0 L268.5 503.0 L295.0 500.0 L297.6 504.7 L318.7 501.5 L321.1 505.6 L345.5 502.0 L354.0 525.8 L354.0 525.8 C345.0 527.2 319.0 531.7 300.0 534.5 C281.0 537.3 260.0 540.2 240.0 542.5 C220.0 544.8 198.4 546.9 180.0 548.4 C161.6 549.9 137.8 551.1 129.4 551.6 Z" fill="url(#g3cL)" stroke="none" />
<path d="M1037.2 523.9 L1042.6 502.6 L1073.1 503.0 L1076.7 498.4 L1096.5 501.6 L1100.1 497.7 L1124.9 500.5 L1128.5 494.5 L1149.1 495.1 L1155.4 476.4 L1266.6 474.4 L1266.6 548.8 C1260.5 548.7 1243.8 548.6 1230.0 548.0 C1216.2 547.4 1198.2 546.3 1183.5 545.0 C1168.8 543.7 1158.4 542.4 1142.0 540.2 C1125.6 538.0 1102.7 534.4 1085.2 531.7 C1067.7 529.0 1045.2 525.2 1037.2 523.9 Z" fill="url(#g3cR)" stroke="none" />
<path d="M347.0 504.7 C350.3 504.6 349.2 504.9 367.0 504.1 C384.8 503.3 424.8 501.0 453.6 499.8 C482.4 498.6 517.2 498.0 540.0 496.9 C562.8 495.8 574.7 494.3 590.5 493.1 C606.3 491.9 624.4 490.8 635.0 489.9 C645.6 489.0 647.6 488.6 653.9 487.8 C660.2 487.1 666.0 486.3 672.9 485.4 C679.8 484.5 691.7 483.1 695.5 482.6 L695.5 482.6 C694.1 483.0 690.9 484.1 687.1 485.2 C683.3 486.3 678.4 487.9 672.9 489.5 C667.4 491.1 660.2 493.1 653.9 494.7 C647.6 496.3 645.6 497.7 635.0 499.4 C624.4 501.1 611.3 502.7 590.5 505.1 C569.7 507.5 537.9 511.1 510.4 513.6 C482.8 516.1 451.3 518.3 425.2 520.3 C399.1 522.3 365.9 524.9 354.0 525.8 Z" fill="url(#g3tL)" stroke="none" />
<path d="M695.5 482.6 C701.7 483.4 720.4 485.8 732.9 487.1 C745.4 488.4 757.0 489.4 770.7 490.6 C784.4 491.8 800.0 493.2 815.0 494.2 C830.0 495.2 838.6 495.4 860.4 496.4 C882.1 497.4 915.1 499.2 945.5 500.2 C975.9 501.2 1026.4 502.2 1042.6 502.6 L1037.2 523.9 L1037.2 523.9 C1021.9 522.9 975.0 519.8 945.5 517.7 C916.0 515.6 882.1 512.9 860.4 511.2 C838.6 509.5 830.0 509.0 815.0 507.4 C800.0 505.8 784.4 503.4 770.7 501.3 C757.0 499.2 742.4 496.5 732.9 494.7 C723.4 492.9 718.9 491.8 713.9 490.4 C708.9 489.0 706.1 487.8 703.0 486.5 C699.9 485.2 696.8 483.2 695.5 482.6 Z" fill="url(#g3tR)" stroke="none" />
<path d="M241.5 479.6 C244.2 480.6 252.0 483.8 258.0 485.5 C264.0 487.2 269.1 488.5 277.7 489.8 C286.2 491.1 296.7 492.6 309.3 493.4 C321.9 494.1 346.0 494.1 353.4 494.3 L369.2 504 L347 504.7 L345.5 502 L321.1 505.6 L318.7 501.5 L297.6 504.7 L295 500 L268.5 503 L265 496 L246.2 497.7 Z" fill="#9e9e9f" stroke="none" />
<path d="M1154.6 477.8 C1152.7 478.5 1147.5 480.6 1143.0 482.0 C1138.5 483.4 1135.1 484.9 1127.8 486.3 C1120.5 487.7 1108.9 489.6 1099.4 490.6 C1089.9 491.6 1080.7 491.8 1071.0 492.3 C1061.3 492.8 1046.2 493.2 1041.2 493.4 L1024.8 502.2 L1042.6 502.6 L1073.1 503 L1076.7 498.4 L1096.5 501.6 L1100.1 497.7 L1124.9 500.5 L1128.5 494.5 L1149.1 495.1 Z" fill="#9e9e9f" stroke="none" />
<path d="M241 477.8 L1155 476.6 L1154.6 477.8 C1152.7 478.5 1147.5 480.6 1143.0 482.0 C1138.5 483.4 1135.1 484.9 1127.8 486.3 C1120.5 487.7 1108.9 489.6 1099.4 490.6 C1089.9 491.6 1080.7 491.8 1071.0 492.3 C1061.3 492.8 1046.2 493.2 1041.2 493.4 L1024.8 502.2 L945.5 500.2 C931.3 499.6 882.1 497.4 860.4 496.4 C838.6 495.4 830.0 495.2 815.0 494.2 C800.0 493.2 784.4 491.8 770.7 490.6 C757.0 489.4 745.4 488.4 732.9 487.1 C720.4 485.8 701.7 483.4 695.5 482.6 L672.9 485.4 C669.7 485.8 660.2 487.1 653.9 487.8 C647.6 488.6 645.6 489.0 635.0 489.9 C624.4 490.8 606.3 491.9 590.5 493.1 C574.7 494.3 562.8 495.8 540.0 496.9 C517.2 498.0 482.4 498.6 453.6 499.8 C424.8 501.0 384.8 503.3 367.0 504.1 C349.2 504.9 350.3 504.6 347.0 504.7 L369.2 504 L353.4 494.3 C346.0 494.1 321.9 494.1 309.3 493.4 C296.7 492.6 286.2 491.1 277.7 489.8 C269.1 488.5 264.0 487.2 258.0 485.5 C252.0 483.8 244.2 480.6 241.5 479.6 Z" fill="#009fe8" stroke="none" />
<path d="M352.8 594.8 C360.1 592.7 380.0 586.5 396.8 582.6 C413.6 578.7 433.1 574.9 453.6 571.2 C474.1 567.5 503.4 564.0 520.0 560.6 C536.5 557.2 541.1 554.2 552.9 550.7 C564.7 547.2 577.0 543.3 590.7 539.3 C604.4 535.2 624.5 530.0 635.0 526.4 C645.5 522.8 648.4 520.6 653.9 517.9 C659.4 515.2 664.1 512.7 668.1 510.3 C672.1 507.9 674.8 505.8 677.6 503.7 C680.4 501.6 682.7 499.4 684.7 497.5 C686.7 495.6 688.0 494.0 689.4 492.3 C690.8 490.6 692.2 488.7 693.2 487.1 C694.2 485.5 695.1 483.4 695.5 482.6" fill="none" stroke="#231815" stroke-width="1.3" stroke-linejoin="round" stroke-linecap="round" />
<path d="M695.5 482.6 C696.0 484.1 697.3 488.4 698.8 491.4 C700.3 494.4 702.0 497.8 704.5 500.8 C707.0 503.8 709.2 506.0 713.9 509.3 C718.6 512.6 726.6 517.5 732.9 520.7 C739.2 523.9 745.5 526.3 751.8 528.7 C758.1 531.1 764.4 533.0 770.7 534.9 C777.0 536.8 782.2 538.3 789.6 540.1 C797.0 541.9 805.3 543.3 815.0 545.8 C824.7 548.3 836.1 551.9 847.9 555.0 C859.7 558.1 873.1 561.5 885.7 564.5 C898.3 567.5 911.0 570.4 923.6 573.0 C936.2 575.6 948.8 578.0 961.4 580.2 C974.0 582.4 986.0 584.2 999.3 586.3 C1012.5 588.4 1034.0 591.7 1040.9 592.8" fill="none" stroke="#231815" stroke-width="1.3" stroke-linejoin="round" stroke-linecap="round" />
<path d="M354.0 525.8 C365.9 524.9 399.1 522.3 425.2 520.3 C451.3 518.3 482.8 516.1 510.4 513.6 C537.9 511.1 569.7 507.5 590.5 505.1 C611.3 502.7 624.4 501.1 635.0 499.4 C645.6 497.7 647.6 496.3 653.9 494.7 C660.2 493.1 667.4 491.1 672.9 489.5 C678.4 487.9 683.3 486.3 687.1 485.2 C690.9 484.1 694.1 483.0 695.5 482.6" fill="none" stroke="#231815" stroke-width="1.3" stroke-linejoin="round" stroke-linecap="round" />
<path d="M695.5 482.6 C696.8 483.2 699.9 485.2 703.0 486.5 C706.1 487.8 708.9 489.0 713.9 490.4 C718.9 491.8 723.4 492.9 732.9 494.7 C742.4 496.5 757.0 499.2 770.7 501.3 C784.4 503.4 800.0 505.8 815.0 507.4 C830.0 509.0 838.6 509.5 860.4 511.2 C882.1 512.9 916.0 515.6 945.5 517.7 C975.0 519.8 1021.9 522.9 1037.2 523.9" fill="none" stroke="#231815" stroke-width="1.3" stroke-linejoin="round" stroke-linecap="round" />
<path d="M347.0 504.7 C350.3 504.6 349.2 504.9 367.0 504.1 C384.8 503.3 424.8 501.0 453.6 499.8 C482.4 498.6 517.2 498.0 540.0 496.9 C562.8 495.8 574.7 494.3 590.5 493.1 C606.3 491.9 624.4 490.8 635.0 489.9 C645.6 489.0 647.6 488.6 653.9 487.8 C660.2 487.1 666.0 486.3 672.9 485.4 C679.8 484.5 691.7 483.1 695.5 482.6" fill="none" stroke="#231815" stroke-width="1.0" stroke-linejoin="round" stroke-linecap="round" />
<path d="M695.5 482.6 C701.7 483.4 720.4 485.8 732.9 487.1 C745.4 488.4 757.0 489.4 770.7 490.6 C784.4 491.8 800.0 493.2 815.0 494.2 C830.0 495.2 838.6 495.4 860.4 496.4 C882.1 497.4 915.1 499.2 945.5 500.2 C975.9 501.2 1026.4 502.2 1042.6 502.6" fill="none" stroke="#231815" stroke-width="1.0" stroke-linejoin="round" stroke-linecap="round" />
<path d="M129.4 551.6 C137.8 551.1 161.6 549.9 180.0 548.4 C198.4 546.9 220.0 544.8 240.0 542.5 C260.0 540.2 281.0 537.3 300.0 534.5 C319.0 531.7 345.0 527.2 354.0 525.8" fill="none" stroke="#231815" stroke-width="1.3" stroke-linejoin="round" stroke-linecap="round" />
<path d="M1037.2 523.9 C1045.2 525.2 1067.7 529.0 1085.2 531.7 C1102.7 534.4 1125.6 538.0 1142.0 540.2 C1158.4 542.4 1168.8 543.7 1183.5 545.0 C1198.2 546.3 1216.2 547.4 1230.0 548.0 C1243.8 548.6 1260.5 548.7 1266.6 548.8" fill="none" stroke="#231815" stroke-width="1.3" stroke-linejoin="round" stroke-linecap="round" />
<path d="M241.5 479.6 C244.2 480.6 252.0 483.8 258.0 485.5 C264.0 487.2 269.1 488.5 277.7 489.8 C286.2 491.1 296.7 492.6 309.3 493.4 C321.9 494.1 346.0 494.1 353.4 494.3 L369.2 504" fill="none" stroke="#231815" stroke-width="0.9" stroke-linejoin="round" stroke-linecap="round" />
<path d="M1154.6 477.8 C1152.7 478.5 1147.5 480.6 1143.0 482.0 C1138.5 483.4 1135.1 484.9 1127.8 486.3 C1120.5 487.7 1108.9 489.6 1099.4 490.6 C1089.9 491.6 1080.7 491.8 1071.0 492.3 C1061.3 492.8 1046.2 493.2 1041.2 493.4 L1024.8 502.2" fill="none" stroke="#231815" stroke-width="0.9" stroke-linejoin="round" stroke-linecap="round" />
<path d="M241 477.8 L1155 476.6" fill="none" stroke="#231815" stroke-width="1.0" stroke-linejoin="round" stroke-linecap="round" />
<path d="M129.4 476.6 L240 478.8 L255.6 528.3" fill="none" stroke="#231815" stroke-width="1.6" stroke-linejoin="round" stroke-linecap="round" />
<path d="M246.2 497.7 L265 496 L276 518 M268.5 503 L295 500 L304.5 517.3 M297.6 504.7 L318.7 501.5 L327.6 516.7 M321.1 505.6 L345.5 502 L354 525.8" fill="none" stroke="#231815" stroke-width="1.6" stroke-linejoin="round" stroke-linecap="round" />
<path d="M1266.6 474.4 L1155.4 476.4 L1142.7 522" fill="none" stroke="#231815" stroke-width="1.6" stroke-linejoin="round" stroke-linecap="round" />
<path d="M1037.2 523.9 L1042.6 502.6 L1073.1 503 M1066.4 520.4 L1076.7 498.4 L1096.5 501.6 M1090.9 520.1 L1100.1 497.7 L1124.9 500.5 M1117.5 520.1 L1128.5 494.5 L1149.1 495.1" fill="none" stroke="#231815" stroke-width="1.6" stroke-linejoin="round" stroke-linecap="round" />
<path d="M129.4 476.6 L129.4 595.4 L1266.6 592.2 L1266.6 474.4" fill="none" stroke="#231815" stroke-width="1.3" stroke-linejoin="round" stroke-linecap="round" />
<path d="M470.8 541.6 L327.9 565.2" stroke="#231815" stroke-width="1.7" fill="none"/><polygon points="317.0,567.0 328.8,559.0 330.8,570.8" fill="#231815"/>
<path d="M953.2 549.2 L1082.6 561.5" stroke="#231815" stroke-width="1.7" fill="none"/><polygon points="1093.6,562.5 1080.1,567.2 1081.2,555.3" fill="#231815"/>
<path d="M695.0 580.0 L695.0 527.3" stroke="#231815" stroke-width="2" fill="none"/><polygon points="695.0,516.3 700.8,529.3 689.2,529.3" fill="#231815"/>
<path d="M668.0 576.0 C667.3 572.8 665.0 561.4 663.7 556.7 C662.4 552.0 661.4 550.0 660.0 548.0 C658.6 546.0 657.2 545.3 655.2 544.7 C653.2 544.1 650.4 544.0 648.0 544.6 C645.6 545.2 644.7 545.0 641.0 548.1 C637.3 551.2 628.5 560.5 626.0 563.0" fill="none" stroke="#231815" stroke-width="1.2" stroke-linejoin="round" stroke-linecap="round" />
<polygon points="616.8,571.4 622.2,558.9 629.4,566.5" fill="#231815"/>
<path d="M723.5 577.0 C724.1 573.6 725.7 561.5 726.9 556.7 C728.1 551.9 729.1 550.0 730.5 548.0 C731.9 546.0 733.6 545.3 735.4 544.7 C737.1 544.1 739.1 544.3 741.0 544.6 C742.9 544.9 743.0 543.6 746.8 546.7 C750.6 549.9 761.1 560.7 764.0 563.5" fill="none" stroke="#231815" stroke-width="1.2" stroke-linejoin="round" stroke-linecap="round" />
<polygon points="773.8,573.1 761.2,568.1 768.5,560.6" fill="#231815"/>
<text x="160" y="525.5" font-size="31" fill="#231815" letter-spacing="0.2" font-weight="400" text-anchor="start" >陆壳</text>
<text x="359.3" y="523.3" font-size="20.5" fill="#231815" letter-spacing="0" font-weight="400" text-anchor="start" >洋壳</text>
<text x="634.8" y="473.1" font-size="30.5" fill="#231815" letter-spacing="1.0" font-weight="400" text-anchor="start" >大洋中脊</text>
<path d="M225.6 814.5 C228.8 810.4 238.4 797.5 245.1 790.2 C251.8 782.9 258.8 776.5 265.6 770.7 C272.4 764.9 279.3 760.2 286.1 755.4 C292.9 750.6 299.8 745.6 306.6 742.0 C313.4 738.4 319.6 736.0 327.1 733.8 C334.6 731.6 342.1 730.1 351.7 728.7 C361.3 727.3 368.1 726.6 384.5 725.6 C400.9 724.6 432.8 723.9 450.0 722.6 C467.2 721.3 475.3 719.7 487.9 717.7 C500.5 715.7 516.2 712.5 525.7 710.6 C535.2 708.7 538.7 707.8 544.6 706.4 C550.5 705.0 558.3 702.9 561.0 702.2 L583.4 708.5 C588.1 709.3 597.6 711.5 611.8 713.5 C626.0 715.5 648.1 718.2 668.6 720.6 C689.1 723.0 710.6 725.6 735.0 727.7 C759.4 729.8 787.7 731.7 815.2 733.4 C842.7 735.1 873.2 736.6 900.0 737.9 C926.8 739.2 952.8 740.0 975.7 741.0 C998.6 742.0 1027.2 743.7 1037.5 744.2 L1098.2 752.4 C1105.2 753.3 1127.9 756.5 1140.0 758.0 C1152.1 759.5 1157.5 760.2 1170.8 761.4 C1184.1 762.6 1204.0 764.3 1220.0 765.3 C1236.0 766.3 1258.8 766.9 1266.6 767.2 L1266.6 810.9 L225.6 814.4700844178684 Z" fill="url(#g4m)" stroke="none" />
<path d="M292.3 814.2 C294.7 811.6 301.5 802.7 306.6 798.4 C311.7 794.1 316.9 791.5 323.0 788.2 C329.1 785.0 336.7 781.6 343.5 778.9 C350.3 776.2 357.9 773.6 364.0 771.8 C370.1 769.9 373.0 769.5 379.8 767.8 C386.6 766.1 395.0 763.8 405.0 761.5 C415.0 759.2 430.6 755.9 439.8 753.9 C449.0 751.9 453.6 751.0 460.0 749.6 C466.4 748.2 470.6 747.5 478.4 745.2 C486.2 742.9 498.9 738.6 506.8 735.7 C514.7 732.8 520.2 730.3 525.7 727.6 C531.2 724.9 536.0 722.0 539.9 719.6 C543.8 717.2 546.7 715.0 549.4 713.0 C552.1 711.0 554.1 709.1 556.0 707.3 C557.9 705.5 560.2 703.1 561.0 702.2 L564.9 710.6 C566.1 711.8 568.9 715.2 572.0 717.7 C575.1 720.2 579.1 723.0 583.4 725.5 C587.7 728.0 592.9 730.5 597.6 732.6 C602.3 734.7 604.7 735.8 611.8 738.3 C618.9 740.8 630.7 744.8 640.2 747.5 C649.7 750.2 659.1 752.5 668.6 754.6 C678.1 756.7 685.9 758.2 697.0 760.3 C708.1 762.4 720.0 764.5 735.0 767.4 C750.0 770.2 768.7 774.2 786.8 777.4 C804.9 780.6 824.7 783.8 843.6 786.6 C862.5 789.4 882.2 791.6 900.0 794.0 C917.8 796.4 933.7 798.7 950.5 800.9 C967.3 803.1 987.1 805.5 1001.0 807.3 C1014.9 809.1 1028.3 811.0 1033.8 811.7 Z" fill="url(#g4mag)" stroke="none" />
<path d="M129.5 692.0 C131.9 691.6 138.7 691.1 143.7 689.7 C148.7 688.3 154.9 685.5 159.4 683.4 C163.9 681.3 167.8 678.6 170.5 677.2 C173.2 675.8 173.4 674.6 175.5 675.0 C177.6 675.4 179.1 677.2 183.0 679.4 C186.9 681.6 193.6 685.6 198.9 688.1 C204.2 690.6 208.8 692.5 214.6 694.4 C220.4 696.3 227.3 698.0 233.6 699.6 C239.9 701.2 249.3 703.2 252.5 703.9 L277.9 746.1 L277.9 746.1 C273.5 749.7 259.1 760.7 251.3 767.7 C243.5 774.7 237.5 780.4 230.8 788.2 C224.1 796.0 214.6 810.1 211.3 814.5 L129.4 814.8 Z" fill="#dfe0b9" stroke="none" />
<path d="M561.0 702.2 C555.1 702.6 537.9 703.5 525.7 704.5 C513.5 705.5 500.5 707.1 487.9 708.2 C475.3 709.3 467.2 710.2 450.0 711.1 C432.8 712.0 402.9 712.2 384.5 713.3 C366.1 714.3 351.0 715.5 339.4 717.4 C327.8 719.3 322.0 721.9 314.8 724.6 C307.6 727.3 302.5 730.2 296.4 733.8 C290.2 737.4 285.4 740.5 277.9 746.1 C270.4 751.8 259.1 760.7 251.3 767.7 C243.5 774.7 237.5 780.4 230.8 788.2 C224.1 796.0 214.6 810.1 211.3 814.5 L225.6 814.5 C228.8 810.4 238.4 797.5 245.1 790.2 C251.8 782.9 258.8 776.5 265.6 770.7 C272.4 764.9 279.3 760.2 286.1 755.4 C292.9 750.6 299.8 745.6 306.6 742.0 C313.4 738.4 319.6 736.0 327.1 733.8 C334.6 731.6 342.1 730.1 351.7 728.7 C361.3 727.3 368.1 726.6 384.5 725.6 C400.9 724.6 432.8 723.9 450.0 722.6 C467.2 721.3 475.3 719.7 487.9 717.7 C500.5 715.7 516.2 712.5 525.7 710.6 C535.2 708.7 538.7 707.8 544.6 706.4 C550.5 705.0 558.3 702.9 561.0 702.2 Z" fill="url(#g4tL)" stroke="none" />
<path d="M561.0 702.2 C569.5 702.9 593.9 705.1 611.8 706.4 C629.7 707.7 648.1 708.7 668.6 709.9 C689.1 711.1 710.6 712.4 735.0 713.4 C759.4 714.4 787.7 715.0 815.2 715.9 C842.7 716.8 873.2 718.0 900.0 718.7 C926.8 719.5 952.2 719.8 975.7 720.4 C999.2 721.0 1030.1 721.9 1041.0 722.2 L1037.6 743.3 L1037.5 744.2 C1027.2 743.7 998.6 742.0 975.7 741.0 C952.8 740.0 926.8 739.2 900.0 737.9 C873.2 736.6 842.7 735.1 815.2 733.4 C787.7 731.7 759.4 729.8 735.0 727.7 C710.6 725.6 689.1 723.0 668.6 720.6 C648.1 718.2 626.0 715.5 611.8 713.5 C597.6 711.5 591.9 710.4 583.4 708.5 C574.9 706.6 564.7 703.2 561.0 702.2 Z" fill="url(#g4tR)" stroke="none" />
<path d="M1037.5 744.2 L1041.2 720.6 L1073.6 721.8 L1076.5 716.8 L1096.5 720.4 L1101.1 715.4 L1123.6 719.8 L1129.0 712.5 L1149.6 713.2 L1155.5 694.3 L1266.6 692.5 L1266.6 767.2 C1258.8 766.9 1236.0 766.3 1220.0 765.3 C1204.0 764.3 1184.1 762.6 1170.8 761.4 C1157.5 760.2 1152.1 759.5 1140.0 758.0 C1127.9 756.5 1115.3 754.7 1098.2 752.4 C1081.1 750.1 1047.6 745.6 1037.5 744.2 Z" fill="url(#g4cR)" stroke="none" />
<path d="M254.3 705.1 L296.4 733.8 L277.9 746.1 Z" fill="#8e8e8f" stroke="none" />
<path d="M1154.6 696.3 C1152.2 697.2 1145.2 700.3 1140.0 702.0 C1134.8 703.7 1130.3 705.3 1123.6 706.6 C1116.9 707.9 1107.3 708.9 1100.0 709.6 C1092.7 710.3 1090.0 710.3 1080.0 710.8 C1070.0 711.2 1046.7 712.0 1040.0 712.3 L1023.9 721.5 L1041 722 L1041.2 720.6 L1073.6 721.8 L1076.5 716.8 L1096.5 720.4 L1101.1 715.4 L1123.6 719.8 L1129 712.5 L1149.6 713.2 Z" fill="#8e8e8f" stroke="none" />
<path d="M233.6 699.6 L1154.5 696.6 L1154.6 696.3 C1152.2 697.2 1145.2 700.3 1140.0 702.0 C1134.8 703.7 1130.3 705.3 1123.6 706.6 C1116.9 707.9 1107.3 708.9 1100.0 709.6 C1092.7 710.3 1090.0 710.3 1080.0 710.8 C1070.0 711.2 1046.7 712.0 1040.0 712.3 L1023.9 721.5 L975.7 720.4 C963.1 720.1 926.8 719.5 900.0 718.7 C873.2 718.0 842.7 716.8 815.2 715.9 C787.7 715.0 759.4 714.4 735.0 713.4 C710.6 712.4 689.1 711.1 668.6 709.9 C648.1 708.7 629.7 707.7 611.8 706.4 C593.9 705.1 569.5 702.9 561.0 702.2 L525.7 704.5 C519.4 705.1 500.5 707.1 487.9 708.2 C475.3 709.3 467.2 710.2 450.0 711.1 C432.8 712.0 402.9 712.2 384.5 713.3 C366.1 714.3 351.0 715.5 339.4 717.4 C327.8 719.3 322.0 721.9 314.8 724.6 C307.6 727.3 299.5 732.3 296.4 733.8 L254.3 705.1 Z" fill="#009fe8" stroke="none" />
<path d="M561.0 702.2 C560.2 703.1 557.9 705.5 556.0 707.3 C554.1 709.1 552.1 711.0 549.4 713.0 C546.7 715.0 543.8 717.2 539.9 719.6 C536.0 722.0 531.2 724.9 525.7 727.6 C520.2 730.3 514.7 732.8 506.8 735.7 C498.9 738.6 486.2 742.9 478.4 745.2 C470.6 747.5 466.4 748.2 460.0 749.6 C453.6 751.0 449.0 751.9 439.8 753.9 C430.6 755.9 415.0 759.2 405.0 761.5 C395.0 763.8 386.6 766.1 379.8 767.8 C373.0 769.5 370.1 769.9 364.0 771.8 C357.9 773.6 350.3 776.2 343.5 778.9 C336.7 781.6 329.1 785.0 323.0 788.2 C316.9 791.5 311.7 794.1 306.6 798.4 C301.5 802.7 294.7 811.6 292.3 814.2" fill="none" stroke="#231815" stroke-width="1.3" stroke-linejoin="round" stroke-linecap="round" />
<path d="M561.0 702.2 C561.6 703.6 563.1 708.0 564.9 710.6 C566.7 713.2 568.9 715.2 572.0 717.7 C575.1 720.2 579.1 723.0 583.4 725.5 C587.7 728.0 592.9 730.5 597.6 732.6 C602.3 734.7 604.7 735.8 611.8 738.3 C618.9 740.8 630.7 744.8 640.2 747.5 C649.7 750.2 659.1 752.5 668.6 754.6 C678.1 756.7 685.9 758.2 697.0 760.3 C708.1 762.4 720.0 764.5 735.0 767.4 C750.0 770.2 768.7 774.2 786.8 777.4 C804.9 780.6 824.7 783.8 843.6 786.6 C862.5 789.4 882.2 791.6 900.0 794.0 C917.8 796.4 933.7 798.7 950.5 800.9 C967.3 803.1 987.1 805.5 1001.0 807.3 C1014.9 809.1 1028.3 811.0 1033.8 811.7" fill="none" stroke="#231815" stroke-width="1.3" stroke-linejoin="round" stroke-linecap="round" />
<path d="M561.0 702.2 C558.3 702.9 550.5 705.0 544.6 706.4 C538.7 707.8 535.2 708.7 525.7 710.6 C516.2 712.5 500.5 715.7 487.9 717.7 C475.3 719.7 467.2 721.3 450.0 722.6 C432.8 723.9 400.9 724.6 384.5 725.6 C368.1 726.6 361.3 727.3 351.7 728.7 C342.1 730.1 334.6 731.6 327.1 733.8 C319.6 736.0 313.4 738.4 306.6 742.0 C299.8 745.6 292.9 750.6 286.1 755.4 C279.3 760.2 272.4 764.9 265.6 770.7 C258.8 776.5 251.8 782.9 245.1 790.2 C238.4 797.5 228.8 810.4 225.6 814.5" fill="none" stroke="#231815" stroke-width="1.3" stroke-linejoin="round" stroke-linecap="round" />
<path d="M561.0 702.2 C564.7 703.2 574.9 706.6 583.4 708.5 C591.9 710.4 597.6 711.5 611.8 713.5 C626.0 715.5 648.1 718.2 668.6 720.6 C689.1 723.0 710.6 725.6 735.0 727.7 C759.4 729.8 787.7 731.7 815.2 733.4 C842.7 735.1 873.2 736.6 900.0 737.9 C926.8 739.2 952.8 740.0 975.7 741.0 C998.6 742.0 1027.2 743.7 1037.5 744.2" fill="none" stroke="#231815" stroke-width="1.3" stroke-linejoin="round" stroke-linecap="round" />
<path d="M561.0 702.2 C555.1 702.6 537.9 703.5 525.7 704.5 C513.5 705.5 500.5 707.1 487.9 708.2 C475.3 709.3 467.2 710.2 450.0 711.1 C432.8 712.0 402.9 712.2 384.5 713.3 C366.1 714.3 351.0 715.5 339.4 717.4 C327.8 719.3 322.0 721.9 314.8 724.6 C307.6 727.3 302.5 730.2 296.4 733.8 C290.2 737.4 285.4 740.5 277.9 746.1 C270.4 751.8 259.1 760.7 251.3 767.7 C243.5 774.7 237.5 780.4 230.8 788.2 C224.1 796.0 214.6 810.1 211.3 814.5" fill="none" stroke="#231815" stroke-width="1.0" stroke-linejoin="round" stroke-linecap="round" />
<path d="M561.0 702.2 C569.5 702.9 593.9 705.1 611.8 706.4 C629.7 707.7 648.1 708.7 668.6 709.9 C689.1 711.1 710.6 712.4 735.0 713.4 C759.4 714.4 787.7 715.0 815.2 715.9 C842.7 716.8 873.2 718.0 900.0 718.7 C926.8 719.5 952.2 719.8 975.7 720.4 C999.2 721.0 1030.1 721.9 1041.0 722.2" fill="none" stroke="#231815" stroke-width="1.0" stroke-linejoin="round" stroke-linecap="round" />
<path d="M1037.5 744.2 C1047.6 745.6 1081.1 750.1 1098.2 752.4 C1115.3 754.7 1127.9 756.5 1140.0 758.0 C1152.1 759.5 1157.5 760.2 1170.8 761.4 C1184.1 762.6 1204.0 764.3 1220.0 765.3 C1236.0 766.3 1258.8 766.9 1266.6 767.2" fill="none" stroke="#231815" stroke-width="1.3" stroke-linejoin="round" stroke-linecap="round" />
<path d="M1154.6 696.3 C1152.2 697.2 1145.2 700.3 1140.0 702.0 C1134.8 703.7 1130.3 705.3 1123.6 706.6 C1116.9 707.9 1107.3 708.9 1100.0 709.6 C1092.7 710.3 1090.0 710.3 1080.0 710.8 C1070.0 711.2 1046.7 712.0 1040.0 712.3 L1023.9 721.5" fill="none" stroke="#231815" stroke-width="0.9" stroke-linejoin="round" stroke-linecap="round" />
<path d="M233.6 699.6 L1154.5 696.6" fill="none" stroke="#231815" stroke-width="1.0" stroke-linejoin="round" stroke-linecap="round" />
<path d="M129.5 692.0 C131.9 691.6 138.7 691.1 143.7 689.7 C148.7 688.3 154.9 685.5 159.4 683.4 C163.9 681.3 167.8 678.6 170.5 677.2 C173.2 675.8 173.4 674.6 175.5 675.0 C177.6 675.4 179.1 677.2 183.0 679.4 C186.9 681.6 193.6 685.6 198.9 688.1 C204.2 690.6 208.8 692.5 214.6 694.4 C220.4 696.3 227.3 698.0 233.6 699.6 C239.9 701.2 249.3 703.2 252.5 703.9 L277.9 746.1" fill="none" stroke="#231815" stroke-width="1.3" stroke-linejoin="round" stroke-linecap="round" />
<path d="M254.3 705.1 L296.4 733.8" fill="none" stroke="#231815" stroke-width="0.9" stroke-linejoin="round" stroke-linecap="round" />
<path d="M1266.6 692.5 L1155.5 694.3 L1141.8 739.7" fill="none" stroke="#231815" stroke-width="1.6" stroke-linejoin="round" stroke-linecap="round" />
<path d="M1037.6 743.3 L1041.2 720.6 L1073.6 721.8 M1066.3 737.9 L1076.5 716.8 L1096.5 720.4 M1090.2 737.1 L1101.1 715.4 L1123.6 719.8 M1117 737.9 L1129 712.5 L1149.6 713.2" fill="none" stroke="#231815" stroke-width="1.6" stroke-linejoin="round" stroke-linecap="round" />
<path d="M129.4 692 L129.4 814.8 L1266.6 810.9 L1266.6 692.5" fill="none" stroke="#231815" stroke-width="1.3" stroke-linejoin="round" stroke-linecap="round" />
<path d="M176.5 675.5 L176.5 814.5" stroke="#e60012" stroke-width="3.1" fill="none"/>
<path d="M153.4 755 L153.5 814.5" stroke="#e60012" stroke-width="3" fill="none"/>
<path d="M175.5 709.3 C176.5 709.6 181.0 710.9 182.8 711.8 C184.6 712.7 187.8 715.1 189.0 716.3 C190.2 717.5 191.7 719.7 192.1 720.8 C192.5 721.9 192.4 723.2 191.8 724.2 C191.2 725.2 189.2 726.9 187.9 728.1 C186.6 729.3 183.2 732.4 181.7 733.2 C180.2 734.0 178.0 734.5 176.6 734.3 C175.2 734.1 172.5 732.6 171.0 731.5 C169.5 730.4 166.5 727.3 165.4 725.9 C164.3 724.5 163.3 722.1 163.1 720.8 C162.9 719.5 163.4 717.4 164.2 716.3 C165.0 715.2 167.8 713.6 169.3 712.7 C170.8 711.8 174.7 709.8 175.5 709.3 Z" fill="#e60012" stroke="none" />
<path d="M154.1 735.1 C154.3 735.6 155.4 738.4 156.1 739.4 C156.8 740.4 158.9 742.3 160.3 743.3 C161.7 744.3 167.1 746.9 167.9 747.8 C168.7 748.7 167.6 749.7 167.0 750.6 C166.4 751.5 164.1 753.9 163.1 755.1 C162.1 756.3 159.7 760.5 158.6 761.3 C157.5 762.1 155.3 762.1 154.1 761.8 C152.9 761.5 149.2 759.9 147.9 759.0 C146.6 758.1 143.7 755.1 142.9 754.0 C142.1 752.9 141.3 750.5 141.2 749.5 C141.1 748.5 141.7 745.9 142.3 745.0 C142.9 744.1 145.1 742.9 146.2 742.2 C147.2 741.5 150.4 739.6 151.3 738.8 C152.2 738.0 153.8 735.5 154.1 735.1 Z" fill="#e60012" stroke="none" />
<path d="M174.2 675.1 C173.8 674.7 171.7 672.8 171.7 671.9 C171.7 671.0 173.6 669.6 174.2 668.4 C174.8 667.2 175.3 664.4 176.0 663.4 C176.7 662.4 178.8 661.8 179.5 660.9 C180.2 660.0 180.7 657.7 181.3 657.0 C181.9 656.3 181.5 656.2 184.1 656.0 C186.7 655.8 196.7 656.1 199.7 655.3 C202.7 654.5 203.8 651.7 205.4 650.6 C207.0 649.5 209.3 648.0 211.1 647.5 C212.9 647.0 216.1 646.9 218.2 647.0 C220.3 647.1 224.2 647.7 226.0 648.5 C227.8 649.3 230.0 651.3 231.0 652.8 C232.0 654.3 232.5 658.0 233.1 659.2 C233.7 660.4 235.4 660.6 235.6 661.3 C235.8 662.0 236.1 663.8 234.5 664.5 C232.9 665.2 225.7 665.6 223.9 666.3 C222.1 667.0 222.9 669.2 221.8 669.8 C220.7 670.4 217.9 670.7 216.1 670.7 C214.3 670.7 210.2 669.3 209.0 669.5 C207.8 669.7 208.9 671.8 207.6 672.3 C206.3 672.8 202.3 672.9 199.7 673.0 C197.1 673.1 190.9 672.6 189.1 673.0 C187.3 673.4 188.1 675.4 187.0 675.8 C185.9 676.2 182.6 675.9 181.3 675.8 C180.0 675.7 178.7 675.2 177.7 675.1 C176.7 675.0 174.7 675.1 174.2 675.1 Z" fill="#d9d9db" stroke="#3c3c3c" stroke-width="1.1" stroke-linejoin="round"/>
<path d="M559.7 803.9 L559.7 751.8" stroke="#231815" stroke-width="2" fill="none"/><polygon points="559.7,740.8 565.5,753.8 554.0,753.8" fill="#231815"/>
<path d="M532.7 800.3 C532.0 796.9 529.4 784.4 528.2 779.9 C527.0 775.4 526.5 774.8 525.5 773.0 C524.5 771.2 523.4 770.3 522.2 769.4 C521.0 768.5 519.8 768.0 518.5 767.7 C517.2 767.5 517.3 766.4 514.7 767.9 C512.1 769.4 506.6 773.6 502.7 776.9 C498.8 780.2 492.9 785.7 491.0 787.5" fill="none" stroke="#231815" stroke-width="1.2" stroke-linejoin="round" stroke-linecap="round" />
<polygon points="481.7,795.5 487.6,783.3 494.5,791.1" fill="#231815"/>
<path d="M586.9 801.3 C587.6 797.8 590.2 785.1 591.4 780.5 C592.6 775.9 593.0 775.3 594.0 773.5 C595.0 771.7 596.2 770.5 597.4 769.6 C598.6 768.7 599.7 768.1 601.0 767.9 C602.3 767.7 602.3 766.7 605.0 768.3 C607.7 769.9 613.2 774.1 617.0 777.5 C620.8 780.9 626.2 786.7 628.0 788.5" fill="none" stroke="#231815" stroke-width="1.2" stroke-linejoin="round" stroke-linecap="round" />
<polygon points="637.7,797.0 625.0,792.3 632.2,784.6" fill="#231815"/>
<path d="M357.5 752.3 C353.5 753.0 340.4 754.2 333.3 756.4 C326.2 758.6 321.0 761.7 314.8 765.6 C308.6 769.5 301.5 776.1 296.4 780.0 C291.3 783.9 286.1 787.5 284.0 789.0" fill="none" stroke="#231815" stroke-width="1.9" stroke-linejoin="round" stroke-linecap="round" />
<polygon points="273.8,796.4 281.2,783.6 288.3,793.3" fill="#231815"/>
<text x="250.5" y="695.6" font-size="30.5" fill="#231815" letter-spacing="1.6" font-weight="400" text-anchor="start" >俯冲带</text>
<path d="M501.0 1033.0 C502.8 1030.2 507.9 1022.0 511.7 1016.1 C515.5 1010.2 519.2 1004.4 524.0 997.6 C528.8 990.8 535.3 980.9 540.4 975.1 C545.5 969.3 550.0 965.7 554.8 962.8 C559.6 959.9 565.4 958.6 569.1 957.6 C572.8 956.6 574.3 956.7 577.0 956.6 C579.7 956.5 581.6 956.7 585.5 957.0 C589.4 957.3 588.8 957.6 600.2 958.5 C611.6 959.4 633.8 961.3 653.9 962.2 C674.0 963.1 696.5 963.5 720.9 963.8 C745.2 964.1 775.7 963.9 800.0 963.8 C824.3 963.7 855.6 963.3 866.7 963.2 L910.0 970.0 C917.0 971.0 937.0 974.3 952.0 976.2 C967.0 978.1 984.2 979.9 1000.0 981.5 C1015.8 983.1 1029.9 984.6 1046.6 985.6 C1063.3 986.6 1084.2 987.3 1100.0 987.8 C1115.8 988.3 1113.4 988.3 1141.2 988.5 C1169.0 988.7 1245.7 988.9 1266.6 989.0 L1266.6 1032.2 L900.0 1032.8 L550.0 1033.1 L350.0 1032.6 L200.0 1031.5 L129.4 1030.3 Z" fill="url(#g5m)" stroke="none" />
<path d="M581.5 1033.1 C581.8 1032.4 582.6 1030.3 583.5 1029.2 C584.4 1028.1 584.9 1027.5 586.8 1026.6 C588.7 1025.7 585.9 1023.8 594.9 1023.9 C603.9 1024.0 624.0 1026.3 640.5 1027.4 C657.0 1028.5 676.2 1029.7 694.1 1030.6 C712.0 1031.5 738.8 1032.5 747.7 1032.9 Z" fill="url(#g5mag)" stroke="#231815" stroke-width="0.9" stroke-linejoin="round" />
<path d="M129.4 906.8 C157.6 906.8 263.6 906.8 298.7 906.6 C333.8 906.4 326.4 906.7 340.0 905.6 C353.6 904.5 371.0 902.1 380.5 900.2 C390.0 898.3 392.4 896.0 396.9 894.3 C401.4 892.6 403.5 889.5 407.6 890.0 C411.7 890.5 415.8 894.5 421.5 897.2 C427.2 899.9 435.2 903.6 442.0 906.4 C448.8 909.2 459.1 912.7 462.5 914.0 L511.7 975.1 L511.7 975.1 C508.6 979.5 499.6 992.1 493.3 1001.7 C487.1 1011.3 477.4 1027.7 474.2 1032.9 L350.0 1032.6 L200.0 1031.5 L129.4 1030.3 Z" fill="url(#g5cL)" stroke="none" />
<path d="M872.9 939.8 C869.5 940.1 871.1 941.1 852.3 941.4 C833.5 941.7 788.6 941.6 760.0 941.6 C731.4 941.6 700.6 941.8 680.7 941.6 C660.8 941.4 653.9 941.0 640.5 940.2 C627.1 939.4 609.4 937.9 600.2 937.0 C591.0 936.1 589.7 935.4 585.5 935.1 C581.3 934.8 578.4 935.0 575.0 935.3 C571.6 935.6 570.1 935.8 565.0 937.1 C559.9 938.4 549.8 941.1 544.5 943.3 C539.2 945.5 537.4 946.5 533.3 950.1 C529.2 953.7 523.5 960.6 519.9 964.8 C516.3 969.0 516.1 969.0 511.7 975.1 C507.3 981.2 499.6 992.1 493.3 1001.7 C487.1 1011.3 477.4 1027.7 474.2 1032.9 L501.0 1033.0 C502.8 1030.2 507.9 1022.0 511.7 1016.1 C515.5 1010.2 519.2 1004.4 524.0 997.6 C528.8 990.8 535.3 980.9 540.4 975.1 C545.5 969.3 550.0 965.7 554.8 962.8 C559.6 959.9 565.4 958.6 569.1 957.6 C572.8 956.6 574.3 956.7 577.0 956.6 C579.7 956.5 581.6 956.7 585.5 957.0 C589.4 957.3 588.8 957.6 600.2 958.5 C611.6 959.4 633.8 961.3 653.9 962.2 C674.0 963.1 696.5 963.5 720.9 963.8 C745.2 964.1 775.7 963.9 800.0 963.8 C824.3 963.7 855.6 963.3 866.7 963.2 Z" fill="url(#g5t)" stroke="none" />
<path d="M866.7 963.2 L872.9 939.8 L897.5 943.6 L899.9 938.3 L923.5 942.3 L926.8 937.4 L951.5 942.0 L955.2 933.6 L978.3 934.6 L984.0 914.2 L1266.6 914.1 L1266.6 989.0 C1245.7 988.9 1169.0 988.7 1141.2 988.5 C1113.4 988.3 1115.8 988.3 1100.0 987.8 C1084.2 987.3 1063.3 986.6 1046.6 985.6 C1029.9 984.6 1015.8 983.1 1000.0 981.5 C984.2 979.9 967.0 978.1 952.0 976.2 C937.0 974.3 924.2 972.2 910.0 970.0 C895.8 967.8 873.9 964.3 866.7 963.2 Z" fill="url(#g5cR)" stroke="none" />
<path d="M467.6 919.7 C470.2 920.4 477.0 921.4 483.0 923.8 C489.0 926.2 495.1 929.7 503.5 934.1 C511.9 938.5 528.3 947.4 533.3 950.1 L511.7 975.1 L466 918 Z" fill="#8e8e8f" stroke="none" />
<path d="M983.0 916.5 C980.5 917.5 973.9 920.8 967.8 922.7 C961.7 924.6 956.0 926.4 946.5 927.7 C937.0 929.0 923.5 929.9 911.0 930.5 C898.5 931.1 877.8 931.4 871.2 931.6 L852.1 941.2 L872.9 939.8 L897.5 943.6 L899.9 938.3 L923.5 942.3 L926.8 937.4 L951.5 942 L955.2 933.6 L978.3 934.6 Z" fill="#8e8e8f" stroke="none" />
<path d="M462.5 914.6 L983.6 914.6 L983.0 916.5 C980.5 917.5 973.9 920.8 967.8 922.7 C961.7 924.6 956.0 926.4 946.5 927.7 C937.0 929.0 923.5 929.9 911.0 930.5 C898.5 931.1 877.8 931.4 871.2 931.6 L852.1 941.2 L852.3 941.4 C836.9 941.4 788.6 941.6 760.0 941.6 C731.4 941.6 700.6 941.8 680.7 941.6 C660.8 941.4 653.9 941.0 640.5 940.2 C627.1 939.4 609.4 937.9 600.2 937.0 C591.0 936.1 589.7 935.4 585.5 935.1 C581.3 934.8 578.4 935.0 575.0 935.3 C571.6 935.6 570.1 935.8 565.0 937.1 C559.9 938.4 549.8 941.1 544.5 943.3 C539.2 945.5 535.2 949.0 533.3 950.1 L533.3 950.1 C528.3 947.4 511.9 938.5 503.5 934.1 C495.1 929.7 489.0 926.2 483.0 923.8 C477.0 921.4 470.2 920.4 467.6 919.7 L466 918 Z" fill="#009fe8" stroke="none" />
<path d="M866.7 963.2 C855.6 963.3 824.3 963.7 800.0 963.8 C775.7 963.9 745.2 964.1 720.9 963.8 C696.5 963.5 674.0 963.1 653.9 962.2 C633.8 961.3 611.6 959.4 600.2 958.5 C588.8 957.6 589.4 957.3 585.5 957.0 C581.6 956.7 579.7 956.5 577.0 956.6 C574.3 956.7 572.8 956.6 569.1 957.6 C565.4 958.6 559.6 959.9 554.8 962.8 C550.0 965.7 545.5 969.3 540.4 975.1 C535.3 980.9 528.8 990.8 524.0 997.6 C519.2 1004.4 515.5 1010.2 511.7 1016.1 C507.9 1022.0 502.8 1030.2 501.0 1033.0" fill="none" stroke="#231815" stroke-width="1.3" stroke-linejoin="round" stroke-linecap="round" />
<path d="M872.9 939.8 C869.5 940.1 871.1 941.1 852.3 941.4 C833.5 941.7 788.6 941.6 760.0 941.6 C731.4 941.6 700.6 941.8 680.7 941.6 C660.8 941.4 653.9 941.0 640.5 940.2 C627.1 939.4 609.4 937.9 600.2 937.0 C591.0 936.1 589.7 935.4 585.5 935.1 C581.3 934.8 578.4 935.0 575.0 935.3 C571.6 935.6 570.1 935.8 565.0 937.1 C559.9 938.4 549.8 941.1 544.5 943.3 C539.2 945.5 537.4 946.5 533.3 950.1 C529.2 953.7 523.5 960.6 519.9 964.8 C516.3 969.0 516.1 969.0 511.7 975.1 C507.3 981.2 499.6 992.1 493.3 1001.7 C487.1 1011.3 477.4 1027.7 474.2 1032.9" fill="none" stroke="#231815" stroke-width="1.0" stroke-linejoin="round" stroke-linecap="round" />
<path d="M866.7 963.2 C873.9 964.3 895.8 967.8 910.0 970.0 C924.2 972.2 937.0 974.3 952.0 976.2 C967.0 978.1 984.2 979.9 1000.0 981.5 C1015.8 983.1 1029.9 984.6 1046.6 985.6 C1063.3 986.6 1084.2 987.3 1100.0 987.8 C1115.8 988.3 1113.4 988.3 1141.2 988.5 C1169.0 988.7 1245.7 988.9 1266.6 989.0" fill="none" stroke="#231815" stroke-width="1.3" stroke-linejoin="round" stroke-linecap="round" />
<path d="M983.0 916.5 C980.5 917.5 973.9 920.8 967.8 922.7 C961.7 924.6 956.0 926.4 946.5 927.7 C937.0 929.0 923.5 929.9 911.0 930.5 C898.5 931.1 877.8 931.4 871.2 931.6 L852.1 941.2" fill="none" stroke="#231815" stroke-width="0.9" stroke-linejoin="round" stroke-linecap="round" />
<path d="M467.6 919.7 C470.2 920.4 477.0 921.4 483.0 923.8 C489.0 926.2 495.1 929.7 503.5 934.1 C511.9 938.5 528.3 947.4 533.3 950.1" fill="none" stroke="#231815" stroke-width="0.9" stroke-linejoin="round" stroke-linecap="round" />
<path d="M462.5 914.6 L983.6 914.6" fill="none" stroke="#231815" stroke-width="1.0" stroke-linejoin="round" stroke-linecap="round" />
<path d="M129.4 906.8 C157.6 906.8 263.6 906.8 298.7 906.6 C333.8 906.4 326.4 906.7 340.0 905.6 C353.6 904.5 371.0 902.1 380.5 900.2 C390.0 898.3 392.4 896.0 396.9 894.3 C401.4 892.6 403.5 889.5 407.6 890.0 C411.7 890.5 415.8 894.5 421.5 897.2 C427.2 899.9 435.2 903.6 442.0 906.4 C448.8 909.2 459.1 912.7 462.5 914.0 L511.7 975.1" fill="none" stroke="#231815" stroke-width="1.3" stroke-linejoin="round" stroke-linecap="round" />
<path d="M1266.6 914.1 L984 914.2 L973.2 960.5" fill="none" stroke="#231815" stroke-width="1.6" stroke-linejoin="round" stroke-linecap="round" />
<path d="M866.7 963.2 L872.9 939.8 L897.5 943.6 M894.2 958.6 L899.9 938.3 L923.5 942.3 M921.2 959.6 L926.8 937.4 L951.5 942 M948.6 958.6 L955.2 933.6 L978.3 934.6" fill="none" stroke="#231815" stroke-width="1.6" stroke-linejoin="round" stroke-linecap="round" />
<path d="M129.4 906.8 L129.4 1030.3 L200.0 1031.5 L350.0 1032.6 L550.0 1033.1 L900.0 1032.8 L1266.6 1032.2 L1266.6 914.1" fill="none" stroke="#231815" stroke-width="1.3" stroke-linejoin="round" stroke-linecap="round" />
<path d="M408.6 890.5 L408.6 1031.8" stroke="#e60012" stroke-width="3.2" fill="none"/>
<path d="M384.8 949.5 L385.3 1031.8" stroke="#e60012" stroke-width="3" fill="none"/>
<path d="M409.2 1012 L437.9 966.9" stroke="#e60012" stroke-width="1.6" fill="none"/>
<ellipse cx="409" cy="945.5" rx="9" ry="11" fill="#e60012" transform="rotate(0 409 945.5)"/>
<ellipse cx="383.5" cy="964.5" rx="9.4" ry="11" fill="#e60012" transform="rotate(0 383.5 964.5)"/>
<ellipse cx="439.8" cy="958" rx="5.8" ry="10.6" fill="#e60012" transform="rotate(6 439.8 958)"/>
<path d="M408.1 888.6 C407.8 888.2 405.6 886.3 405.6 885.4 C405.6 884.5 407.5 883.1 408.1 881.9 C408.7 880.7 409.2 877.9 409.9 876.9 C410.6 875.9 412.7 875.3 413.4 874.4 C414.1 873.5 414.6 871.2 415.2 870.5 C415.8 869.8 415.4 869.7 418.0 869.5 C420.6 869.3 430.6 869.6 433.6 868.8 C436.6 868.0 437.7 865.2 439.3 864.1 C440.9 863.0 443.2 861.5 445.0 861.0 C446.8 860.5 450.0 860.4 452.1 860.5 C454.2 860.6 458.1 861.2 459.9 862.0 C461.7 862.8 463.9 864.8 464.9 866.3 C465.9 867.8 466.4 871.5 467.0 872.7 C467.6 873.9 469.3 874.1 469.5 874.8 C469.7 875.5 470.0 877.3 468.4 878.0 C466.8 878.7 459.6 879.1 457.8 879.8 C456.0 880.5 456.8 882.7 455.7 883.3 C454.6 883.9 451.8 884.2 450.0 884.2 C448.2 884.2 444.1 882.8 442.9 883.0 C441.7 883.2 442.8 885.3 441.5 885.8 C440.2 886.3 436.2 886.4 433.6 886.5 C431.0 886.6 424.8 886.1 423.0 886.5 C421.2 886.9 422.0 888.9 420.9 889.3 C419.8 889.7 416.5 889.4 415.2 889.3 C413.9 889.2 412.6 888.7 411.6 888.6 C410.6 888.5 408.6 888.6 408.1 888.6 Z" fill="#d9d9db" stroke="#3c3c3c" stroke-width="1.1" stroke-linejoin="round"/>
<path d="M821.5 993.9 L698.4 993.9" stroke="#231815" stroke-width="1.7" fill="none"/><polygon points="687.4,993.9 700.4,987.9 700.4,999.9" fill="#231815"/>
<path d="M565.0 992.5 L546.5 1017.8" stroke="#231815" stroke-width="1.4" fill="none"/><polygon points="540.0,1026.7 544.0,1013.5 551.3,1018.9" fill="#231815"/>
<path d="M129.5 1142.3 C157.9 1141.7 248.2 1140.0 300.0 1138.8 C351.8 1137.6 406.4 1136.0 440.0 1135.1 C473.6 1134.2 484.4 1134.7 501.5 1133.5 C518.6 1132.3 531.1 1129.5 542.5 1128.0 C553.9 1126.5 561.5 1125.9 570.0 1124.6 C578.5 1123.3 585.8 1122.0 593.7 1120.4 C601.6 1118.8 611.4 1116.7 617.3 1115.1 C623.2 1113.5 625.5 1112.2 629.1 1111.0 C632.7 1109.8 637.0 1108.3 638.6 1107.8 L643.3 1106.8 L648.1 1108.2 L651.6 1109.8 L657.5 1109.0 L663.5 1109.8 L668.2 1106.8 L671.7 1106.8 L676.5 1109.4 L683.6 1106.6 L693.0 1103.9 L698.4 1103.0 L700.7 1100.0 L703.7 1103.3 L709.6 1106.2 L714.0 1107.3 L719.6 1108.8 L728.1 1105.4 L733.8 1107.8 L739.5 1109.7 L748.0 1112.1 L759.4 1111.1 L773.6 1111.6 L773.6 1111.6 C775.5 1112.3 781.1 1114.3 784.9 1115.6 C788.7 1116.9 792.5 1118.3 796.3 1119.2 C800.1 1120.1 803.8 1120.4 807.6 1121.0 C811.4 1121.6 813.6 1121.8 819.0 1122.7 C824.4 1123.6 828.8 1125.0 840.0 1126.3 C851.2 1127.6 858.9 1129.1 886.3 1130.8 C913.7 1132.5 941.2 1134.4 1004.6 1136.3 C1068.0 1138.2 1222.8 1141.3 1266.5 1142.3 L1266.5 1243.2 L129.5 1243.2 Z" fill="url(#g6c)" stroke="none" />
<path d="M129.5 1197.3 C157.9 1198.2 241.8 1201.1 300.0 1203.0 C358.2 1204.9 437.0 1206.8 478.6 1208.5 C520.2 1210.2 532.1 1211.2 549.5 1213.3 C566.9 1215.4 573.3 1218.3 582.7 1221.3 C592.1 1224.3 598.9 1227.8 606.0 1231.5 C613.1 1235.2 622.1 1241.2 625.3 1243.2 L129.5 1243.2 Z" fill="url(#g6mL)" stroke="none" />
<path d="M775.9 1243.2 C778.2 1241.8 784.8 1237.5 790.0 1234.5 C795.2 1231.5 799.9 1228.8 807.4 1225.5 C814.9 1222.2 825.1 1218.3 835.0 1215.0 C844.9 1211.7 856.6 1208.2 866.6 1205.8 C876.6 1203.4 885.1 1201.9 895.0 1200.5 C904.9 1199.1 907.4 1198.3 925.7 1197.4 C944.0 1196.5 947.8 1195.5 1004.6 1195.0 C1061.4 1194.5 1222.8 1194.6 1266.5 1194.5 L1266.5 1243.2 Z" fill="url(#g6mR)" stroke="none" />
<path d="M662.3 1110.4 C661.5 1111.8 659.5 1115.8 657.5 1118.7 C655.5 1121.7 653.1 1124.9 650.4 1128.1 C647.6 1131.2 644.5 1134.4 641.0 1137.6 C637.5 1140.8 633.4 1143.9 629.1 1147.1 C624.8 1150.2 620.2 1153.1 615.0 1156.5 C609.8 1159.9 600.7 1165.6 597.8 1167.4 L599.5 1167.6 C600.5 1167.7 602.5 1168.2 605.5 1168.3 C608.5 1168.4 613.0 1168.6 617.3 1168.3 C621.6 1168.0 626.8 1167.7 631.5 1166.6 C636.2 1165.5 641.0 1164.1 645.7 1161.8 C650.4 1159.5 655.6 1156.2 659.9 1153.0 C664.2 1149.8 668.0 1146.2 671.7 1142.3 C675.5 1138.3 679.2 1133.6 682.4 1129.3 C685.6 1125.0 688.3 1120.3 690.7 1116.3 C693.1 1112.3 695.6 1107.0 696.6 1105.1 L693.0 1103.9 L683.6 1106.6 L676.5 1109.4 L671.7 1106.8 L668.2 1106.8 L663.5 1109.8 Z" fill="#ffffff" stroke="none" />
<path d="M773.3 1112.1 C772.4 1114.6 770.2 1122.2 767.9 1127.0 C765.6 1131.8 763.2 1136.0 759.4 1141.2 C755.6 1146.4 750.4 1152.8 745.2 1158.2 C740.0 1163.6 734.5 1168.3 728.1 1173.8 C721.7 1179.2 714.5 1185.6 706.8 1190.9 C699.1 1196.2 686.1 1203.3 682.0 1205.8 L689.0 1201.6 C690.3 1201.0 693.4 1199.0 696.9 1198.0 C700.4 1197.0 704.0 1197.2 709.7 1195.8 C715.4 1194.4 724.1 1192.4 731.0 1189.4 C737.9 1186.5 744.8 1182.3 750.9 1178.1 C757.0 1173.8 762.9 1168.9 767.9 1163.9 C772.9 1158.9 776.9 1153.5 780.7 1148.3 C784.5 1143.1 788.0 1137.5 790.6 1132.7 C793.2 1127.9 795.3 1121.5 796.3 1119.2 L784.9 1115.6 L773.6 1111.6 Z" fill="#ffffff" stroke="none" />
<path d="M129.5 1197.3 C157.9 1198.2 241.8 1201.1 300.0 1203.0 C358.2 1204.9 437.0 1206.8 478.6 1208.5 C520.2 1210.2 532.1 1211.2 549.5 1213.3 C566.9 1215.4 573.3 1218.3 582.7 1221.3 C592.1 1224.3 598.9 1227.8 606.0 1231.5 C613.1 1235.2 622.1 1241.2 625.3 1243.2" fill="none" stroke="#231815" stroke-width="1.3" stroke-linejoin="round" stroke-linecap="round" />
<path d="M775.9 1243.2 C778.2 1241.8 784.8 1237.5 790.0 1234.5 C795.2 1231.5 799.9 1228.8 807.4 1225.5 C814.9 1222.2 825.1 1218.3 835.0 1215.0 C844.9 1211.7 856.6 1208.2 866.6 1205.8 C876.6 1203.4 885.1 1201.9 895.0 1200.5 C904.9 1199.1 907.4 1198.3 925.7 1197.4 C944.0 1196.5 947.8 1195.5 1004.6 1195.0 C1061.4 1194.5 1222.8 1194.6 1266.5 1194.5" fill="none" stroke="#231815" stroke-width="1.3" stroke-linejoin="round" stroke-linecap="round" />
<path d="M662.3 1110.4 C661.5 1111.8 659.5 1115.8 657.5 1118.7 C655.5 1121.7 653.1 1124.9 650.4 1128.1 C647.6 1131.2 644.5 1134.4 641.0 1137.6 C637.5 1140.8 633.4 1143.9 629.1 1147.1 C624.8 1150.2 620.2 1153.1 615.0 1156.5 C609.8 1159.9 600.7 1165.6 597.8 1167.4" fill="none" stroke="#231815" stroke-width="1.7" stroke-linejoin="round" stroke-linecap="round" />
<path d="M718.9 1108.8 C718.5 1110.4 718.1 1114.7 716.5 1118.6 C714.9 1122.5 711.7 1127.8 709.0 1132.2 C706.3 1136.6 703.6 1140.7 700.1 1144.7 C696.6 1148.8 693.2 1152.2 688.3 1156.5 C683.4 1160.8 677.5 1165.8 670.6 1170.7 C663.7 1175.6 654.8 1181.4 646.9 1186.1 C639.0 1190.8 631.1 1195.0 623.2 1199.1 C615.3 1203.2 606.6 1207.5 599.6 1210.9 C592.6 1214.4 584.3 1218.3 581.2 1219.8" fill="none" stroke="#231815" stroke-width="1.9" stroke-linejoin="round" stroke-linecap="round" />
<path d="M773.3 1112.1 C772.4 1114.6 770.2 1122.2 767.9 1127.0 C765.6 1131.8 763.2 1136.0 759.4 1141.2 C755.6 1146.4 750.4 1152.8 745.2 1158.2 C740.0 1163.6 734.5 1168.3 728.1 1173.8 C721.7 1179.2 714.5 1185.6 706.8 1190.9 C699.1 1196.2 686.1 1203.3 682.0 1205.8" fill="none" stroke="#231815" stroke-width="1.7" stroke-linejoin="round" stroke-linecap="round" />
<path d="M818.7 1122.7 C818.6 1124.4 819.2 1128.9 818.3 1132.7 C817.4 1136.5 816.0 1140.7 813.3 1145.4 C810.6 1150.1 806.2 1156.0 802.0 1161.0 C797.8 1166.0 792.5 1170.7 787.8 1175.2 C783.1 1179.7 778.6 1183.7 773.6 1188.0 C768.6 1192.3 760.6 1198.7 758.0 1200.8" fill="none" stroke="#231815" stroke-width="1.7" stroke-linejoin="round" stroke-linecap="round" />
<path d="M129.5 1142.3 C157.9 1141.7 248.2 1140.0 300.0 1138.8 C351.8 1137.6 406.4 1136.0 440.0 1135.1 C473.6 1134.2 484.4 1134.7 501.5 1133.5 C518.6 1132.3 531.1 1129.5 542.5 1128.0 C553.9 1126.5 561.5 1125.9 570.0 1124.6 C578.5 1123.3 585.8 1122.0 593.7 1120.4 C601.6 1118.8 611.4 1116.7 617.3 1115.1 C623.2 1113.5 625.5 1112.2 629.1 1111.0 C632.7 1109.8 637.0 1108.3 638.6 1107.8 L643.3 1106.8 L648.1 1108.2 L651.6 1109.8 L657.5 1109.0 L663.5 1109.8 L668.2 1106.8 L671.7 1106.8 L676.5 1109.4 L683.6 1106.6 L693.0 1103.9 L698.4 1103.0 L700.7 1100.0 L703.7 1103.3 L709.6 1106.2 L714.0 1107.3 L719.6 1108.8 L728.1 1105.4 L733.8 1107.8 L739.5 1109.7 L748.0 1112.1 L759.4 1111.1 L773.6 1111.6 L773.6 1111.6 C775.5 1112.3 781.1 1114.3 784.9 1115.6 C788.7 1116.9 792.5 1118.3 796.3 1119.2 C800.1 1120.1 803.8 1120.4 807.6 1121.0 C811.4 1121.6 813.6 1121.8 819.0 1122.7 C824.4 1123.6 828.8 1125.0 840.0 1126.3 C851.2 1127.6 858.9 1129.1 886.3 1130.8 C913.7 1132.5 941.2 1134.4 1004.6 1136.3 C1068.0 1138.2 1222.8 1141.3 1266.5 1142.3" fill="none" stroke="#231815" stroke-width="1.0" stroke-linejoin="round" stroke-linecap="round" />
<path d="M129.5 1142.3 L129.5 1243.2 L1266.5 1243.2 L1266.5 1142.3" fill="none" stroke="#231815" stroke-width="1.3" stroke-linejoin="round" stroke-linecap="round" />
<text x="603.2" y="1092.4" font-size="30.5" fill="#231815" letter-spacing="1.1" font-weight="400" text-anchor="start" >大陆碰撞缝合带</text>
</svg>
</body>
</html>
